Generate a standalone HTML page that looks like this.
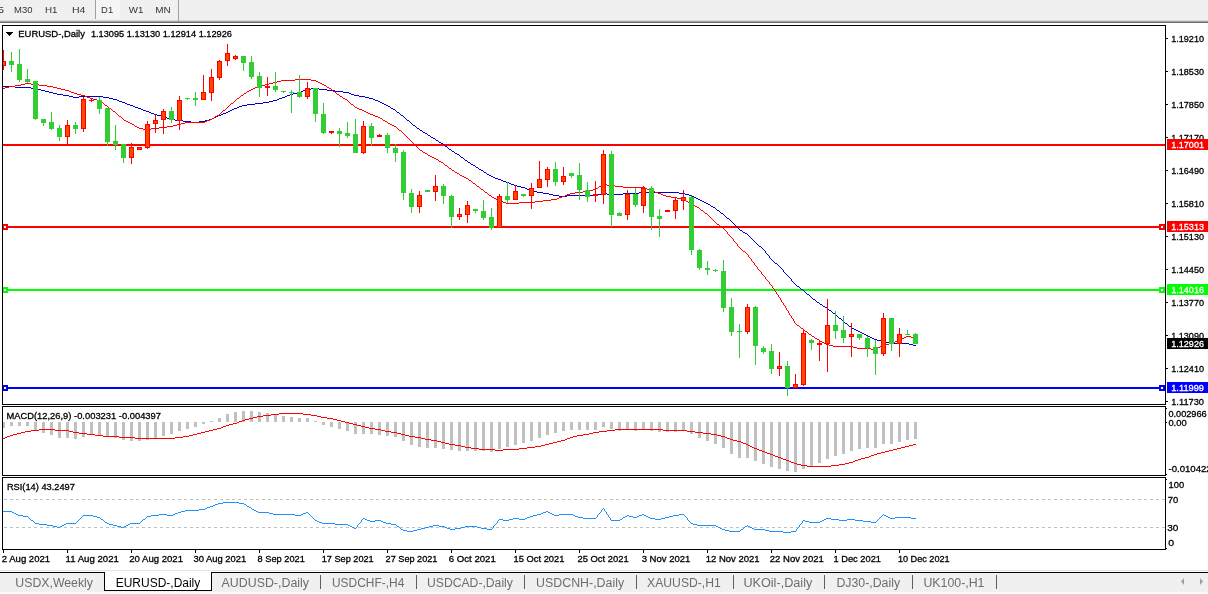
<!DOCTYPE html><html><head><meta charset="utf-8"><title>EURUSD-,Daily</title><style>
html,body{margin:0;padding:0;background:#fff;}body{width:1208px;height:594px;overflow:hidden;position:relative;}
svg{position:absolute;left:0;top:0;display:block;}
text{font-family:"Liberation Sans",Arial,sans-serif;}
.t9{font-size:9px;fill:#000;}
.tb{font-size:9px;fill:#333;}
.tab{font-size:12px;fill:#6d6d6d;}
</style></head><body>
<svg width="1208" height="594" viewBox="0 0 1208 594">
<rect x="0" y="0" width="1208" height="21" fill="#f0f0f0"/>
<rect x="0" y="20" width="1208" height="1" fill="#dadada"/>
<rect x="0" y="21" width="1208" height="1" fill="#a0a0a0"/>
<rect x="0" y="22" width="1208" height="1" fill="#6e6e6e"/>
<defs><pattern id="chk" width="2" height="2" patternUnits="userSpaceOnUse"><rect width="2" height="2" fill="#f0f0f0"/><rect width="1" height="1" fill="#fafafa"/><rect x="1" y="1" width="1" height="1" fill="#fafafa"/></pattern></defs>
<rect x="96" y="0" width="24" height="19" fill="url(#chk)"/>
<rect x="95" y="0" width="1" height="19" fill="#a0a0a0"/>
<rect x="178" y="0" width="1" height="21" fill="#a0a0a0"/>
<text x="-2.10" y="13" font-family="DejaVu Sans","Liberation Sans",sans-serif font-size="9.5" fill="#333" textLength="6.00" lengthAdjust="spacingAndGlyphs">5</text>
<text x="14.00" y="13" font-family="DejaVu Sans","Liberation Sans",sans-serif font-size="9.5" fill="#333" textLength="18.40" lengthAdjust="spacingAndGlyphs">M30</text>
<text x="44.90" y="13" font-family="DejaVu Sans","Liberation Sans",sans-serif font-size="9.5" fill="#333" textLength="12.50" lengthAdjust="spacingAndGlyphs">H1</text>
<text x="71.90" y="13" font-family="DejaVu Sans","Liberation Sans",sans-serif font-size="9.5" fill="#333" textLength="13.50" lengthAdjust="spacingAndGlyphs">H4</text>
<text x="101.10" y="13" font-family="DejaVu Sans","Liberation Sans",sans-serif font-size="9.5" fill="#333" textLength="12.10" lengthAdjust="spacingAndGlyphs">D1</text>
<text x="128.80" y="13" font-family="DejaVu Sans","Liberation Sans",sans-serif font-size="9.5" fill="#333" textLength="14.60" lengthAdjust="spacingAndGlyphs">W1</text>
<text x="155.30" y="13" font-family="DejaVu Sans","Liberation Sans",sans-serif font-size="9.5" fill="#333" textLength="15.50" lengthAdjust="spacingAndGlyphs">MN</text>
<g shape-rendering="crispEdges">
<rect x="2" y="25" width="1164" height="1" fill="#000"/>
<rect x="2" y="404" width="1164" height="1" fill="#000"/>
<rect x="2" y="25" width="1" height="380" fill="#000"/>
<rect x="1165" y="25" width="1" height="380" fill="#000"/>
<rect x="2" y="406" width="1164" height="1" fill="#000"/>
<rect x="2" y="475" width="1164" height="1" fill="#000"/>
<rect x="2" y="406" width="1" height="70" fill="#000"/>
<rect x="1165" y="406" width="1" height="70" fill="#000"/>
<rect x="2" y="477" width="1164" height="1" fill="#000"/>
<rect x="2" y="549" width="1164" height="1" fill="#000"/>
<rect x="2" y="477" width="1" height="73" fill="#000"/>
<rect x="1165" y="477" width="1" height="73" fill="#000"/>
</g>
<defs><clipPath id="cm"><rect x="3" y="26" width="1162" height="378"/></clipPath><clipPath id="cd"><rect x="3" y="407" width="1162" height="68"/></clipPath><clipPath id="cr"><rect x="3" y="478" width="1162" height="71"/></clipPath></defs>
<g clip-path="url(#cm)" shape-rendering="crispEdges">
<rect x="3" y="144" width="1162" height="2" fill="#ff0000"/>
<rect x="3" y="226" width="1162" height="2" fill="#ff0000"/>
<rect x="2" y="224" width="6" height="6" fill="#ff0000"/>
<rect x="4" y="226" width="2" height="2" fill="#fff"/>
<rect x="1159" y="224" width="6" height="6" fill="#ff0000"/>
<rect x="1161" y="226" width="2" height="2" fill="#fff"/>
<rect x="3" y="289" width="1162" height="2" fill="#00ff00"/>
<rect x="2" y="287" width="6" height="6" fill="#00ff00"/>
<rect x="4" y="289" width="2" height="2" fill="#fff"/>
<rect x="1159" y="287" width="6" height="6" fill="#00ff00"/>
<rect x="1161" y="289" width="2" height="2" fill="#fff"/>
<rect x="3" y="387" width="1162" height="2" fill="#0000ff"/>
<rect x="2" y="385" width="6" height="6" fill="#0000ff"/>
<rect x="4" y="387" width="2" height="2" fill="#fff"/>
<rect x="1159" y="385" width="6" height="6" fill="#0000ff"/>
<rect x="1161" y="387" width="2" height="2" fill="#fff"/>
<path d="M3 86h12v1h-12zM15 87h16v1h-16zM31 88h6v1h-6zM311 88h8v1h-8zM37 89h4v1h-4zM306 89h5v1h-5zM319 89h8v1h-8zM41 90h4v1h-4zM303 90h3v1h-3zM327 90h8v1h-8zM45 91h4v1h-4zM301 91h2v1h-2zM335 91h8v1h-8zM49 92h4v1h-4zM297 92h4v1h-4zM343 92h6v1h-6zM53 93h4v1h-4zM293 93h4v1h-4zM349 93h2v1h-2zM57 94h6v1h-6zM290 94h3v1h-3zM351 94h3v1h-3zM63 95h6v1h-6zM287 95h3v1h-3zM354 95h5v1h-5zM69 96h4v1h-4zM79 96h24v1h-24zM285 96h2v1h-2zM359 96h6v1h-6zM73 97h6v1h-6zM103 97h6v1h-6zM282 97h3v1h-3zM365 97h4v1h-4zM109 98h4v1h-4zM279 98h3v1h-3zM369 98h4v1h-4zM113 99h4v1h-4zM277 99h2v1h-2zM373 99h2v1h-2zM117 100h2v1h-2zM273 100h4v1h-4zM375 100h3v1h-3zM119 101h3v1h-3zM269 101h4v1h-4zM378 101h2v1h-2zM122 102h3v1h-3zM263 102h6v1h-6zM380 102h2v1h-2zM125 103h2v1h-2zM255 103h8v1h-8zM382 103h2v1h-2zM127 104h3v1h-3zM247 104h8v1h-8zM384 104h2v1h-2zM130 105h3v1h-3zM242 105h5v1h-5zM386 105h2v1h-2zM133 106h2v1h-2zM239 106h3v1h-3zM388 106h2v1h-2zM135 107h3v1h-3zM237 107h2v1h-2zM390 107h1v1h-1zM138 108h3v1h-3zM234 108h3v1h-3zM391 108h2v1h-2zM141 109h2v1h-2zM232 109h2v1h-2zM393 109h2v1h-2zM143 110h3v1h-3zM230 110h2v1h-2zM395 110h1v1h-1zM146 111h3v1h-3zM228 111h2v1h-2zM396 111h1v1h-1zM149 112h2v1h-2zM226 112h2v1h-2zM397 112h2v1h-2zM151 113h3v1h-3zM223 113h3v1h-3zM399 113h1v1h-1zM154 114h3v1h-3zM221 114h2v1h-2zM400 114h1v1h-1zM157 115h4v1h-4zM218 115h3v1h-3zM401 115h2v1h-2zM161 116h4v1h-4zM216 116h2v1h-2zM403 116h1v1h-1zM165 117h2v1h-2zM214 117h2v1h-2zM404 117h1v1h-1zM167 118h3v1h-3zM212 118h2v1h-2zM405 118h1v1h-1zM170 119h5v1h-5zM209 119h3v1h-3zM406 119h1v1h-1zM175 120h8v1h-8zM205 120h4v1h-4zM407 120h2v1h-2zM183 121h8v1h-8zM199 121h6v1h-6zM409 121h1v1h-1zM191 122h8v1h-8zM410 122h1v1h-1zM411 123h1v1h-1zM412 124h1v1h-1zM413 125h2v1h-2zM415 126h1v1h-1zM416 127h1v1h-1zM417 128h2v1h-2zM419 129h1v1h-1zM420 130h2v1h-2zM422 131h1v1h-1zM423 132h2v1h-2zM425 133h2v1h-2zM427 134h1v1h-1zM428 135h2v1h-2zM430 136h1v1h-1zM431 137h2v1h-2zM433 138h2v1h-2zM435 139h1v1h-1zM436 140h2v1h-2zM438 141h1v1h-1zM439 142h2v1h-2zM441 143h2v1h-2zM443 144h1v1h-1zM444 145h1v1h-1zM445 146h2v1h-2zM447 147h1v1h-1zM448 148h1v1h-1zM449 149h2v1h-2zM451 150h1v1h-1zM452 151h2v1h-2zM454 152h1v1h-1zM455 153h2v1h-2zM457 154h2v1h-2zM459 155h1v1h-1zM460 156h1v1h-1zM461 157h2v1h-2zM463 158h1v1h-1zM464 159h1v1h-1zM465 160h2v1h-2zM467 161h1v1h-1zM468 162h2v1h-2zM470 163h1v1h-1zM471 164h2v1h-2zM473 165h2v1h-2zM475 166h1v1h-1zM476 167h2v1h-2zM478 168h1v1h-1zM479 169h2v1h-2zM481 170h2v1h-2zM483 171h1v1h-1zM484 172h2v1h-2zM486 173h1v1h-1zM487 174h2v1h-2zM489 175h2v1h-2zM491 176h2v1h-2zM493 177h2v1h-2zM495 178h3v1h-3zM498 179h3v1h-3zM501 180h2v1h-2zM503 181h3v1h-3zM506 182h3v1h-3zM509 183h2v1h-2zM511 184h3v1h-3zM514 185h3v1h-3zM517 186h4v1h-4zM521 187h4v1h-4zM525 188h2v1h-2zM527 189h3v1h-3zM530 190h3v1h-3zM533 191h4v1h-4zM537 192h6v1h-6zM639 192h40v1h-40zM543 193h6v1h-6zM601 193h6v1h-6zM623 193h16v1h-16zM679 193h6v1h-6zM549 194h4v1h-4zM597 194h4v1h-4zM607 194h16v1h-16zM685 194h4v1h-4zM553 195h6v1h-6zM567 195h30v1h-30zM689 195h3v1h-3zM559 196h8v1h-8zM692 196h2v1h-2zM694 197h2v1h-2zM696 198h2v1h-2zM698 199h2v1h-2zM700 200h2v1h-2zM702 201h2v1h-2zM704 202h2v1h-2zM706 203h2v1h-2zM708 204h2v1h-2zM710 205h1v1h-1zM711 206h2v1h-2zM713 207h2v1h-2zM715 208h1v1h-1zM716 209h1v1h-1zM717 210h2v1h-2zM719 211h1v1h-1zM720 212h1v1h-1zM721 213h2v1h-2zM723 214h1v1h-1zM724 215h1v1h-1zM725 216h1v1h-1zM726 217h1v1h-1zM727 218h2v1h-2zM729 219h1v1h-1zM730 220h1v1h-1zM731 221h1v1h-1zM732 222h1v1h-1zM733 223h1v1h-1zM734 224h1v1h-1zM735 225h1v1h-1zM736 226h1v1h-1zM737 227h1v1h-1zM738 228h1v1h-1zM739 229h1v1h-1zM740 230h2v1h-2zM742 231h1v1h-1zM743 232h2v1h-2zM745 233h2v1h-2zM747 234h1v1h-1zM748 235h1v1h-1zM749 236h1v1h-1zM750 237h1v1h-1zM751 238h1v1h-1zM752 239h1v1h-1zM753 240h1v1h-1zM754 241h1v1h-1zM755 242h1v1h-1zM756 243h1v1h-1zM757 244h1v1h-1zM758 245h1v1h-1zM759 246h2v1h-2zM761 247h1v1h-1zM762 248h1v1h-1zM763 249h1v1h-1zM764 250h1v1h-1zM765 251h1v1h-1zM765 252h1v1h-1zM766 253h1v1h-1zM767 254h1v1h-1zM768 255h1v1h-1zM769 256h1v1h-1zM769 257h1v1h-1zM770 258h1v1h-1zM771 259h1v1h-1zM772 260h1v1h-1zM773 261h1v1h-1zM774 262h1v1h-1zM775 263h2v1h-2zM777 264h1v1h-1zM778 265h1v1h-1zM779 266h1v1h-1zM780 267h1v1h-1zM781 268h1v1h-1zM782 269h1v1h-1zM783 270h1v1h-1zM783 271h1v1h-1zM784 272h1v1h-1zM785 273h1v1h-1zM786 274h1v1h-1zM787 275h1v1h-1zM788 276h1v1h-1zM789 277h1v1h-1zM790 278h1v1h-1zM791 279h1v1h-1zM791 280h1v1h-1zM792 281h1v1h-1zM793 282h1v1h-1zM794 283h1v1h-1zM795 284h1v1h-1zM796 285h1v1h-1zM797 286h2v1h-2zM799 287h1v1h-1zM800 288h1v1h-1zM801 289h2v1h-2zM803 290h1v1h-1zM804 291h1v1h-1zM805 292h1v1h-1zM806 293h1v1h-1zM807 294h2v1h-2zM809 295h1v1h-1zM810 296h1v1h-1zM811 297h1v1h-1zM812 298h1v1h-1zM813 299h2v1h-2zM815 300h1v1h-1zM816 301h1v1h-1zM817 302h2v1h-2zM819 303h1v1h-1zM820 304h2v1h-2zM822 305h1v1h-1zM823 306h2v1h-2zM825 307h2v1h-2zM827 308h1v1h-1zM828 309h1v1h-1zM829 310h2v1h-2zM831 311h1v1h-1zM832 312h1v1h-1zM833 313h2v1h-2zM835 314h1v1h-1zM836 315h1v1h-1zM837 316h1v1h-1zM838 317h1v1h-1zM839 318h2v1h-2zM841 319h1v1h-1zM842 320h1v1h-1zM843 321h1v1h-1zM844 322h1v1h-1zM845 323h2v1h-2zM847 324h1v1h-1zM848 325h1v1h-1zM849 326h2v1h-2zM851 327h1v1h-1zM852 328h2v1h-2zM854 329h2v1h-2zM856 330h2v1h-2zM858 331h2v1h-2zM860 332h2v1h-2zM862 333h2v1h-2zM864 334h2v1h-2zM866 335h2v1h-2zM868 336h2v1h-2zM870 337h2v1h-2zM872 338h2v1h-2zM874 339h3v1h-3zM877 340h4v1h-4zM881 341h4v1h-4zM885 342h4v1h-4zM889 343h20v1h-20zM909 344h4v1h-4zM913 345h3v1h-3z" fill="#0000cd"/>
<path d="M295 79h16v1h-16zM281 80h14v1h-14zM311 80h5v1h-5zM277 81h4v1h-4zM316 81h2v1h-2zM273 82h4v1h-4zM318 82h2v1h-2zM25 83h6v1h-6zM269 83h4v1h-4zM320 83h2v1h-2zM21 84h4v1h-4zM31 84h8v1h-8zM265 84h4v1h-4zM322 84h2v1h-2zM15 85h6v1h-6zM39 85h8v1h-8zM261 85h4v1h-4zM324 85h2v1h-2zM9 86h6v1h-6zM47 86h6v1h-6zM258 86h3v1h-3zM326 86h1v1h-1zM5 87h4v1h-4zM53 87h4v1h-4zM255 87h3v1h-3zM327 87h2v1h-2zM3 88h2v1h-2zM57 88h4v1h-4zM253 88h2v1h-2zM329 88h2v1h-2zM61 89h4v1h-4zM251 89h2v1h-2zM331 89h1v1h-1zM65 90h4v1h-4zM249 90h2v1h-2zM332 90h1v1h-1zM69 91h2v1h-2zM247 91h2v1h-2zM333 91h2v1h-2zM71 92h3v1h-3zM246 92h1v1h-1zM335 92h1v1h-1zM74 93h3v1h-3zM244 93h2v1h-2zM336 93h1v1h-1zM77 94h4v1h-4zM243 94h1v1h-1zM337 94h2v1h-2zM81 95h4v1h-4zM241 95h2v1h-2zM339 95h1v1h-1zM85 96h2v1h-2zM240 96h1v1h-1zM340 96h2v1h-2zM87 97h3v1h-3zM239 97h1v1h-1zM342 97h1v1h-1zM90 98h3v1h-3zM237 98h2v1h-2zM343 98h2v1h-2zM93 99h4v1h-4zM236 99h1v1h-1zM345 99h2v1h-2zM97 100h3v1h-3zM235 100h1v1h-1zM347 100h1v1h-1zM100 101h1v1h-1zM234 101h1v1h-1zM348 101h1v1h-1zM101 102h2v1h-2zM233 102h1v1h-1zM349 102h1v1h-1zM103 103h1v1h-1zM231 103h2v1h-2zM350 103h1v1h-1zM104 104h1v1h-1zM230 104h1v1h-1zM351 104h2v1h-2zM105 105h2v1h-2zM229 105h1v1h-1zM353 105h1v1h-1zM107 106h1v1h-1zM228 106h1v1h-1zM354 106h1v1h-1zM108 107h1v1h-1zM227 107h1v1h-1zM355 107h2v1h-2zM109 108h2v1h-2zM226 108h1v1h-1zM357 108h2v1h-2zM111 109h1v1h-1zM225 109h1v1h-1zM359 109h3v1h-3zM112 110h1v1h-1zM223 110h2v1h-2zM362 110h2v1h-2zM113 111h2v1h-2zM222 111h1v1h-1zM364 111h2v1h-2zM115 112h1v1h-1zM221 112h1v1h-1zM366 112h2v1h-2zM116 113h1v1h-1zM220 113h1v1h-1zM368 113h2v1h-2zM117 114h1v1h-1zM219 114h1v1h-1zM370 114h3v1h-3zM118 115h1v1h-1zM217 115h2v1h-2zM373 115h2v1h-2zM119 116h2v1h-2zM215 116h2v1h-2zM375 116h3v1h-3zM121 117h1v1h-1zM214 117h1v1h-1zM378 117h2v1h-2zM122 118h1v1h-1zM212 118h2v1h-2zM380 118h2v1h-2zM123 119h1v1h-1zM210 119h2v1h-2zM382 119h1v1h-1zM124 120h2v1h-2zM207 120h3v1h-3zM383 120h2v1h-2zM126 121h2v1h-2zM205 121h2v1h-2zM385 121h2v1h-2zM128 122h2v1h-2zM185 122h20v1h-20zM387 122h1v1h-1zM130 123h2v1h-2zM181 123h4v1h-4zM388 123h2v1h-2zM132 124h2v1h-2zM177 124h4v1h-4zM390 124h2v1h-2zM134 125h1v1h-1zM173 125h4v1h-4zM392 125h2v1h-2zM135 126h2v1h-2zM167 126h6v1h-6zM394 126h2v1h-2zM137 127h2v1h-2zM159 127h8v1h-8zM396 127h1v1h-1zM139 128h4v1h-4zM151 128h8v1h-8zM397 128h1v1h-1zM143 129h8v1h-8zM398 129h1v1h-1zM399 130h2v1h-2zM401 131h1v1h-1zM402 132h1v1h-1zM403 133h1v1h-1zM404 134h1v1h-1zM405 135h1v1h-1zM406 136h1v1h-1zM407 137h1v1h-1zM408 138h1v1h-1zM409 139h1v1h-1zM410 140h1v1h-1zM411 141h1v1h-1zM412 142h1v1h-1zM413 143h1v1h-1zM414 144h1v1h-1zM415 145h1v1h-1zM416 146h1v1h-1zM417 147h1v1h-1zM418 148h1v1h-1zM419 149h1v1h-1zM420 150h2v1h-2zM422 151h1v1h-1zM423 152h2v1h-2zM425 153h2v1h-2zM427 154h1v1h-1zM428 155h2v1h-2zM430 156h2v1h-2zM432 157h2v1h-2zM434 158h2v1h-2zM436 159h2v1h-2zM438 160h1v1h-1zM439 161h2v1h-2zM441 162h2v1h-2zM443 163h1v1h-1zM444 164h1v1h-1zM445 165h2v1h-2zM447 166h1v1h-1zM448 167h1v1h-1zM449 168h2v1h-2zM451 169h1v1h-1zM452 170h2v1h-2zM454 171h1v1h-1zM455 172h2v1h-2zM457 173h2v1h-2zM459 174h1v1h-1zM460 175h2v1h-2zM462 176h2v1h-2zM464 177h2v1h-2zM466 178h2v1h-2zM468 179h1v1h-1zM469 180h2v1h-2zM471 181h1v1h-1zM472 182h1v1h-1zM473 183h2v1h-2zM475 184h1v1h-1zM603 184h4v1h-4zM476 185h1v1h-1zM601 185h2v1h-2zM607 185h8v1h-8zM477 186h2v1h-2zM599 186h2v1h-2zM615 186h8v1h-8zM479 187h1v1h-1zM598 187h1v1h-1zM623 187h22v1h-22zM480 188h1v1h-1zM596 188h2v1h-2zM645 188h2v1h-2zM481 189h2v1h-2zM593 189h3v1h-3zM647 189h3v1h-3zM483 190h1v1h-1zM589 190h4v1h-4zM650 190h3v1h-3zM484 191h1v1h-1zM583 191h6v1h-6zM653 191h2v1h-2zM485 192h2v1h-2zM575 192h8v1h-8zM655 192h3v1h-3zM487 193h1v1h-1zM570 193h5v1h-5zM658 193h3v1h-3zM488 194h1v1h-1zM567 194h3v1h-3zM661 194h2v1h-2zM489 195h2v1h-2zM565 195h2v1h-2zM663 195h3v1h-3zM491 196h1v1h-1zM562 196h3v1h-3zM666 196h5v1h-5zM492 197h2v1h-2zM559 197h3v1h-3zM671 197h6v1h-6zM494 198h2v1h-2zM557 198h2v1h-2zM677 198h4v1h-4zM496 199h2v1h-2zM551 199h6v1h-6zM681 199h3v1h-3zM498 200h3v1h-3zM543 200h8v1h-8zM684 200h2v1h-2zM501 201h2v1h-2zM535 201h8v1h-8zM686 201h2v1h-2zM503 202h3v1h-3zM519 202h16v1h-16zM688 202h2v1h-2zM506 203h13v1h-13zM690 203h2v1h-2zM692 204h2v1h-2zM694 205h1v1h-1zM695 206h2v1h-2zM697 207h2v1h-2zM699 208h1v1h-1zM700 209h1v1h-1zM701 210h2v1h-2zM703 211h1v1h-1zM704 212h1v1h-1zM705 213h2v1h-2zM707 214h1v1h-1zM708 215h1v1h-1zM709 216h1v1h-1zM710 217h1v1h-1zM711 218h1v1h-1zM712 219h1v1h-1zM713 220h1v1h-1zM714 221h1v1h-1zM715 222h1v1h-1zM716 223h1v1h-1zM717 224h2v1h-2zM719 225h1v1h-1zM720 226h1v1h-1zM721 227h2v1h-2zM723 228h1v1h-1zM724 229h1v1h-1zM725 230h1v1h-1zM726 231h1v1h-1zM727 232h1v1h-1zM727 233h1v1h-1zM728 234h1v1h-1zM729 235h1v1h-1zM730 236h1v1h-1zM731 237h1v1h-1zM732 238h1v1h-1zM733 239h1v1h-1zM733 240h1v1h-1zM734 241h1v1h-1zM735 242h1v1h-1zM736 243h1v1h-1zM737 244h1v1h-1zM737 245h1v1h-1zM738 246h1v1h-1zM739 247h1v1h-1zM740 248h1v1h-1zM741 249h1v1h-1zM742 250h1v1h-1zM743 251h2v1h-2zM745 252h1v1h-1zM746 253h1v1h-1zM747 254h1v1h-1zM748 255h1v1h-1zM748 256h1v1h-1zM749 257h1v1h-1zM750 258h1v1h-1zM751 259h1v1h-1zM751 260h1v1h-1zM752 261h1v1h-1zM753 262h1v1h-1zM754 263h1v1h-1zM754 264h1v1h-1zM755 265h1v1h-1zM756 266h1v1h-1zM757 267h1v1h-1zM757 268h1v1h-1zM758 269h1v1h-1zM759 270h1v1h-1zM760 271h1v1h-1zM761 272h1v1h-1zM761 273h1v1h-1zM762 274h1v1h-1zM763 275h1v1h-1zM764 276h1v1h-1zM765 277h1v1h-1zM765 278h1v1h-1zM766 279h1v1h-1zM767 280h1v1h-1zM768 281h1v1h-1zM769 282h1v1h-1zM769 283h1v1h-1zM770 284h1v1h-1zM771 285h1v1h-1zM772 286h1v1h-1zM772 287h1v1h-1zM773 288h1v1h-1zM774 289h1v1h-1zM774 290h1v1h-1zM775 291h1v1h-1zM776 292h1v1h-1zM776 293h1v1h-1zM777 294h1v1h-1zM778 295h1v1h-1zM778 296h1v1h-1zM779 297h1v1h-1zM780 298h1v1h-1zM780 299h1v1h-1zM781 300h1v1h-1zM781 301h1v1h-1zM782 302h1v1h-1zM783 303h1v1h-1zM783 304h1v1h-1zM784 305h1v1h-1zM785 306h1v1h-1zM785 307h1v1h-1zM786 308h1v1h-1zM786 309h1v1h-1zM787 310h1v1h-1zM788 311h1v1h-1zM788 312h1v1h-1zM789 313h1v1h-1zM789 314h1v1h-1zM790 315h1v1h-1zM791 316h1v1h-1zM791 317h1v1h-1zM792 318h1v1h-1zM793 319h1v1h-1zM793 320h1v1h-1zM794 321h1v1h-1zM794 322h1v1h-1zM795 323h1v1h-1zM796 324h1v1h-1zM797 325h2v1h-2zM799 326h1v1h-1zM800 327h1v1h-1zM801 328h2v1h-2zM803 329h1v1h-1zM804 330h1v1h-1zM805 331h2v1h-2zM807 332h1v1h-1zM808 333h1v1h-1zM809 334h2v1h-2zM811 335h1v1h-1zM812 336h2v1h-2zM906 336h5v1h-5zM814 337h1v1h-1zM904 337h2v1h-2zM911 337h5v1h-5zM815 338h2v1h-2zM902 338h2v1h-2zM817 339h2v1h-2zM900 339h2v1h-2zM819 340h1v1h-1zM898 340h2v1h-2zM820 341h2v1h-2zM895 341h3v1h-3zM822 342h2v1h-2zM893 342h2v1h-2zM824 343h2v1h-2zM889 343h4v1h-4zM826 344h3v1h-3zM885 344h4v1h-4zM829 345h4v1h-4zM882 345h3v1h-3zM833 346h20v1h-20zM880 346h2v1h-2zM853 347h4v1h-4zM878 347h2v1h-2zM857 348h14v1h-14zM876 348h2v1h-2zM871 349h5v1h-5z" fill="#ff0000"/>
<rect x="3" y="50" width="1" height="20" fill="#ff0000"/>
<rect x="1" y="61" width="5" height="5" fill="#ff0000"/>
<rect x="2" y="62" width="3" height="3" fill="#ff4500"/>
<rect x="11" y="52" width="1" height="20" fill="#32cd32"/>
<rect x="9" y="61" width="5" height="4" fill="#32cd32"/>
<rect x="19" y="49" width="1" height="33" fill="#32cd32"/>
<rect x="17" y="64" width="5" height="16" fill="#32cd32"/>
<rect x="27" y="69" width="1" height="14" fill="#32cd32"/>
<rect x="25" y="79" width="5" height="3" fill="#32cd32"/>
<rect x="35" y="81" width="1" height="39" fill="#32cd32"/>
<rect x="33" y="81" width="5" height="38" fill="#32cd32"/>
<rect x="43" y="119" width="1" height="7" fill="#32cd32"/>
<rect x="41" y="119" width="5" height="4" fill="#32cd32"/>
<rect x="51" y="112" width="1" height="18" fill="#32cd32"/>
<rect x="49" y="122" width="5" height="7" fill="#32cd32"/>
<rect x="59" y="125" width="1" height="16" fill="#32cd32"/>
<rect x="57" y="128" width="5" height="9" fill="#32cd32"/>
<rect x="67" y="120" width="1" height="24" fill="#ff0000"/>
<rect x="65" y="125" width="5" height="12" fill="#ff0000"/>
<rect x="66" y="126" width="3" height="10" fill="#ff4500"/>
<rect x="75" y="122" width="1" height="12" fill="#32cd32"/>
<rect x="73" y="125" width="5" height="4" fill="#32cd32"/>
<rect x="83" y="97" width="1" height="35" fill="#ff0000"/>
<rect x="81" y="99" width="5" height="30" fill="#ff0000"/>
<rect x="82" y="100" width="3" height="28" fill="#ff4500"/>
<rect x="91" y="98" width="1" height="4" fill="#ff0000"/>
<rect x="89" y="100" width="5" height="1" fill="#ff0000"/>
<rect x="99" y="97" width="1" height="17" fill="#32cd32"/>
<rect x="97" y="100" width="5" height="9" fill="#32cd32"/>
<rect x="107" y="108" width="1" height="38" fill="#32cd32"/>
<rect x="105" y="108" width="5" height="34" fill="#32cd32"/>
<rect x="115" y="125" width="1" height="25" fill="#32cd32"/>
<rect x="113" y="141" width="5" height="4" fill="#32cd32"/>
<rect x="123" y="144" width="1" height="19" fill="#32cd32"/>
<rect x="121" y="144" width="5" height="14" fill="#32cd32"/>
<rect x="131" y="143" width="1" height="21" fill="#ff0000"/>
<rect x="129" y="147" width="5" height="11" fill="#ff0000"/>
<rect x="130" y="148" width="3" height="9" fill="#ff4500"/>
<rect x="139" y="147" width="1" height="3" fill="#ff0000"/>
<rect x="137" y="147" width="5" height="3" fill="#ff0000"/>
<rect x="138" y="148" width="3" height="1" fill="#ff4500"/>
<rect x="147" y="121" width="1" height="28" fill="#ff0000"/>
<rect x="145" y="124" width="5" height="24" fill="#ff0000"/>
<rect x="146" y="125" width="3" height="22" fill="#ff4500"/>
<rect x="155" y="114" width="1" height="19" fill="#ff0000"/>
<rect x="153" y="120" width="5" height="4" fill="#ff0000"/>
<rect x="154" y="121" width="3" height="2" fill="#ff4500"/>
<rect x="163" y="109" width="1" height="25" fill="#ff0000"/>
<rect x="161" y="111" width="5" height="9" fill="#ff0000"/>
<rect x="162" y="112" width="3" height="7" fill="#ff4500"/>
<rect x="171" y="107" width="1" height="16" fill="#32cd32"/>
<rect x="169" y="111" width="5" height="9" fill="#32cd32"/>
<rect x="179" y="96" width="1" height="34" fill="#ff0000"/>
<rect x="177" y="100" width="5" height="21" fill="#ff0000"/>
<rect x="178" y="101" width="3" height="19" fill="#ff4500"/>
<rect x="187" y="98" width="1" height="2" fill="#32cd32"/>
<rect x="185" y="98" width="5" height="1" fill="#32cd32"/>
<rect x="195" y="92" width="1" height="14" fill="#32cd32"/>
<rect x="193" y="98" width="5" height="2" fill="#32cd32"/>
<rect x="203" y="75" width="1" height="25" fill="#ff0000"/>
<rect x="201" y="92" width="5" height="8" fill="#ff0000"/>
<rect x="202" y="93" width="3" height="6" fill="#ff4500"/>
<rect x="211" y="69" width="1" height="32" fill="#ff0000"/>
<rect x="209" y="77" width="5" height="16" fill="#ff0000"/>
<rect x="210" y="78" width="3" height="14" fill="#ff4500"/>
<rect x="219" y="60" width="1" height="20" fill="#ff0000"/>
<rect x="217" y="61" width="5" height="17" fill="#ff0000"/>
<rect x="218" y="62" width="3" height="15" fill="#ff4500"/>
<rect x="227" y="44" width="1" height="22" fill="#ff0000"/>
<rect x="225" y="53" width="5" height="8" fill="#ff0000"/>
<rect x="226" y="54" width="3" height="6" fill="#ff4500"/>
<rect x="235" y="55" width="1" height="5" fill="#ff0000"/>
<rect x="233" y="56" width="5" height="3" fill="#ff0000"/>
<rect x="234" y="57" width="3" height="1" fill="#ff4500"/>
<rect x="243" y="56" width="1" height="15" fill="#32cd32"/>
<rect x="241" y="56" width="5" height="7" fill="#32cd32"/>
<rect x="251" y="56" width="1" height="23" fill="#32cd32"/>
<rect x="249" y="62" width="5" height="15" fill="#32cd32"/>
<rect x="259" y="72" width="1" height="25" fill="#32cd32"/>
<rect x="257" y="76" width="5" height="12" fill="#32cd32"/>
<rect x="267" y="77" width="1" height="19" fill="#ff0000"/>
<rect x="265" y="86" width="5" height="2" fill="#ff0000"/>
<rect x="275" y="72" width="1" height="20" fill="#32cd32"/>
<rect x="273" y="86" width="5" height="4" fill="#32cd32"/>
<rect x="283" y="91" width="1" height="2" fill="#32cd32"/>
<rect x="281" y="91" width="5" height="1" fill="#32cd32"/>
<rect x="291" y="90" width="1" height="23" fill="#32cd32"/>
<rect x="289" y="92" width="5" height="1" fill="#32cd32"/>
<rect x="299" y="75" width="1" height="23" fill="#32cd32"/>
<rect x="297" y="92" width="5" height="5" fill="#32cd32"/>
<rect x="307" y="82" width="1" height="17" fill="#ff0000"/>
<rect x="305" y="88" width="5" height="9" fill="#ff0000"/>
<rect x="306" y="89" width="3" height="7" fill="#ff4500"/>
<rect x="315" y="88" width="1" height="34" fill="#32cd32"/>
<rect x="313" y="88" width="5" height="26" fill="#32cd32"/>
<rect x="323" y="103" width="1" height="31" fill="#32cd32"/>
<rect x="321" y="114" width="5" height="19" fill="#32cd32"/>
<rect x="331" y="131" width="1" height="3" fill="#ff0000"/>
<rect x="329" y="131" width="5" height="2" fill="#ff0000"/>
<rect x="339" y="128" width="1" height="19" fill="#32cd32"/>
<rect x="337" y="131" width="5" height="3" fill="#32cd32"/>
<rect x="347" y="122" width="1" height="16" fill="#32cd32"/>
<rect x="345" y="133" width="5" height="3" fill="#32cd32"/>
<rect x="355" y="119" width="1" height="34" fill="#32cd32"/>
<rect x="353" y="134" width="5" height="19" fill="#32cd32"/>
<rect x="363" y="121" width="1" height="33" fill="#ff0000"/>
<rect x="361" y="126" width="5" height="27" fill="#ff0000"/>
<rect x="362" y="127" width="3" height="25" fill="#ff4500"/>
<rect x="371" y="123" width="1" height="23" fill="#32cd32"/>
<rect x="369" y="126" width="5" height="12" fill="#32cd32"/>
<rect x="379" y="134" width="1" height="3" fill="#ff0000"/>
<rect x="377" y="135" width="5" height="2" fill="#ff0000"/>
<rect x="387" y="133" width="1" height="20" fill="#32cd32"/>
<rect x="385" y="135" width="5" height="13" fill="#32cd32"/>
<rect x="395" y="144" width="1" height="18" fill="#32cd32"/>
<rect x="393" y="148" width="5" height="5" fill="#32cd32"/>
<rect x="403" y="150" width="1" height="50" fill="#32cd32"/>
<rect x="401" y="152" width="5" height="41" fill="#32cd32"/>
<rect x="411" y="189" width="1" height="24" fill="#32cd32"/>
<rect x="409" y="193" width="5" height="14" fill="#32cd32"/>
<rect x="419" y="191" width="1" height="22" fill="#ff0000"/>
<rect x="417" y="195" width="5" height="12" fill="#ff0000"/>
<rect x="418" y="196" width="3" height="10" fill="#ff4500"/>
<rect x="427" y="190" width="1" height="2" fill="#32cd32"/>
<rect x="425" y="190" width="5" height="2" fill="#32cd32"/>
<rect x="435" y="175" width="1" height="26" fill="#ff0000"/>
<rect x="433" y="186" width="5" height="6" fill="#ff0000"/>
<rect x="434" y="187" width="3" height="4" fill="#ff4500"/>
<rect x="443" y="184" width="1" height="20" fill="#32cd32"/>
<rect x="441" y="186" width="5" height="10" fill="#32cd32"/>
<rect x="451" y="195" width="1" height="33" fill="#32cd32"/>
<rect x="449" y="196" width="5" height="21" fill="#32cd32"/>
<rect x="459" y="208" width="1" height="12" fill="#ff0000"/>
<rect x="457" y="214" width="5" height="3" fill="#ff0000"/>
<rect x="458" y="215" width="3" height="1" fill="#ff4500"/>
<rect x="467" y="201" width="1" height="22" fill="#ff0000"/>
<rect x="465" y="205" width="5" height="10" fill="#ff0000"/>
<rect x="466" y="206" width="3" height="8" fill="#ff4500"/>
<rect x="475" y="209" width="1" height="4" fill="#32cd32"/>
<rect x="473" y="209" width="5" height="2" fill="#32cd32"/>
<rect x="483" y="200" width="1" height="20" fill="#32cd32"/>
<rect x="481" y="211" width="5" height="7" fill="#32cd32"/>
<rect x="491" y="208" width="1" height="22" fill="#32cd32"/>
<rect x="489" y="217" width="5" height="11" fill="#32cd32"/>
<rect x="499" y="194" width="1" height="34" fill="#ff0000"/>
<rect x="497" y="196" width="5" height="32" fill="#ff0000"/>
<rect x="498" y="197" width="3" height="30" fill="#ff4500"/>
<rect x="507" y="182" width="1" height="21" fill="#32cd32"/>
<rect x="505" y="196" width="5" height="4" fill="#32cd32"/>
<rect x="515" y="185" width="1" height="15" fill="#ff0000"/>
<rect x="513" y="191" width="5" height="9" fill="#ff0000"/>
<rect x="514" y="192" width="3" height="7" fill="#ff4500"/>
<rect x="523" y="194" width="1" height="3" fill="#32cd32"/>
<rect x="521" y="194" width="5" height="2" fill="#32cd32"/>
<rect x="531" y="183" width="1" height="26" fill="#ff0000"/>
<rect x="529" y="188" width="5" height="8" fill="#ff0000"/>
<rect x="530" y="189" width="3" height="6" fill="#ff4500"/>
<rect x="539" y="161" width="1" height="27" fill="#ff0000"/>
<rect x="537" y="179" width="5" height="9" fill="#ff0000"/>
<rect x="538" y="180" width="3" height="7" fill="#ff4500"/>
<rect x="547" y="167" width="1" height="20" fill="#ff0000"/>
<rect x="545" y="169" width="5" height="11" fill="#ff0000"/>
<rect x="546" y="170" width="3" height="9" fill="#ff4500"/>
<rect x="555" y="162" width="1" height="24" fill="#32cd32"/>
<rect x="553" y="169" width="5" height="13" fill="#32cd32"/>
<rect x="563" y="167" width="1" height="18" fill="#ff0000"/>
<rect x="561" y="176" width="5" height="6" fill="#ff0000"/>
<rect x="562" y="177" width="3" height="4" fill="#ff4500"/>
<rect x="571" y="173" width="1" height="5" fill="#32cd32"/>
<rect x="569" y="173" width="5" height="3" fill="#32cd32"/>
<rect x="579" y="163" width="1" height="37" fill="#32cd32"/>
<rect x="577" y="175" width="5" height="15" fill="#32cd32"/>
<rect x="587" y="182" width="1" height="20" fill="#32cd32"/>
<rect x="585" y="190" width="5" height="7" fill="#32cd32"/>
<rect x="595" y="181" width="1" height="21" fill="#ff0000"/>
<rect x="593" y="194" width="5" height="2" fill="#ff0000"/>
<rect x="603" y="150" width="1" height="54" fill="#ff0000"/>
<rect x="601" y="154" width="5" height="41" fill="#ff0000"/>
<rect x="602" y="155" width="3" height="39" fill="#ff4500"/>
<rect x="611" y="151" width="1" height="76" fill="#32cd32"/>
<rect x="609" y="154" width="5" height="61" fill="#32cd32"/>
<rect x="619" y="212" width="1" height="4" fill="#32cd32"/>
<rect x="617" y="213" width="5" height="3" fill="#32cd32"/>
<rect x="627" y="190" width="1" height="30" fill="#ff0000"/>
<rect x="625" y="194" width="5" height="21" fill="#ff0000"/>
<rect x="626" y="195" width="3" height="19" fill="#ff4500"/>
<rect x="635" y="188" width="1" height="19" fill="#32cd32"/>
<rect x="633" y="194" width="5" height="11" fill="#32cd32"/>
<rect x="643" y="186" width="1" height="27" fill="#ff0000"/>
<rect x="641" y="188" width="5" height="18" fill="#ff0000"/>
<rect x="642" y="189" width="3" height="16" fill="#ff4500"/>
<rect x="651" y="186" width="1" height="44" fill="#32cd32"/>
<rect x="649" y="188" width="5" height="29" fill="#32cd32"/>
<rect x="659" y="209" width="1" height="28" fill="#32cd32"/>
<rect x="657" y="216" width="5" height="3" fill="#32cd32"/>
<rect x="667" y="210" width="1" height="2" fill="#ff0000"/>
<rect x="665" y="210" width="5" height="2" fill="#ff0000"/>
<rect x="675" y="198" width="1" height="21" fill="#ff0000"/>
<rect x="673" y="200" width="5" height="11" fill="#ff0000"/>
<rect x="674" y="201" width="3" height="9" fill="#ff4500"/>
<rect x="683" y="190" width="1" height="20" fill="#ff0000"/>
<rect x="681" y="197" width="5" height="4" fill="#ff0000"/>
<rect x="682" y="198" width="3" height="2" fill="#ff4500"/>
<rect x="691" y="196" width="1" height="59" fill="#32cd32"/>
<rect x="689" y="197" width="5" height="53" fill="#32cd32"/>
<rect x="699" y="249" width="1" height="21" fill="#32cd32"/>
<rect x="697" y="250" width="5" height="18" fill="#32cd32"/>
<rect x="707" y="261" width="1" height="14" fill="#32cd32"/>
<rect x="705" y="268" width="5" height="2" fill="#32cd32"/>
<rect x="715" y="269" width="1" height="3" fill="#32cd32"/>
<rect x="713" y="270" width="5" height="1" fill="#32cd32"/>
<rect x="723" y="260" width="1" height="52" fill="#32cd32"/>
<rect x="721" y="271" width="5" height="37" fill="#32cd32"/>
<rect x="731" y="298" width="1" height="38" fill="#32cd32"/>
<rect x="729" y="307" width="5" height="25" fill="#32cd32"/>
<rect x="739" y="324" width="1" height="34" fill="#32cd32"/>
<rect x="737" y="331" width="5" height="1" fill="#32cd32"/>
<rect x="747" y="304" width="1" height="30" fill="#ff0000"/>
<rect x="745" y="307" width="5" height="25" fill="#ff0000"/>
<rect x="746" y="308" width="3" height="23" fill="#ff4500"/>
<rect x="755" y="306" width="1" height="59" fill="#32cd32"/>
<rect x="753" y="307" width="5" height="39" fill="#32cd32"/>
<rect x="763" y="346" width="1" height="8" fill="#32cd32"/>
<rect x="761" y="348" width="5" height="4" fill="#32cd32"/>
<rect x="771" y="344" width="1" height="30" fill="#32cd32"/>
<rect x="769" y="351" width="5" height="18" fill="#32cd32"/>
<rect x="779" y="352" width="1" height="24" fill="#ff0000"/>
<rect x="777" y="366" width="5" height="3" fill="#ff0000"/>
<rect x="778" y="367" width="3" height="1" fill="#ff4500"/>
<rect x="787" y="361" width="1" height="35" fill="#32cd32"/>
<rect x="785" y="366" width="5" height="22" fill="#32cd32"/>
<rect x="795" y="374" width="1" height="14" fill="#ff0000"/>
<rect x="793" y="384" width="5" height="4" fill="#ff0000"/>
<rect x="794" y="385" width="3" height="2" fill="#ff4500"/>
<rect x="803" y="330" width="1" height="56" fill="#ff0000"/>
<rect x="801" y="333" width="5" height="52" fill="#ff0000"/>
<rect x="802" y="334" width="3" height="50" fill="#ff4500"/>
<rect x="811" y="339" width="1" height="11" fill="#32cd32"/>
<rect x="809" y="340" width="5" height="3" fill="#32cd32"/>
<rect x="819" y="340" width="1" height="21" fill="#ff0000"/>
<rect x="817" y="343" width="5" height="2" fill="#ff0000"/>
<rect x="827" y="299" width="1" height="73" fill="#ff0000"/>
<rect x="825" y="325" width="5" height="19" fill="#ff0000"/>
<rect x="826" y="326" width="3" height="17" fill="#ff4500"/>
<rect x="835" y="311" width="1" height="28" fill="#32cd32"/>
<rect x="833" y="325" width="5" height="6" fill="#32cd32"/>
<rect x="843" y="316" width="1" height="27" fill="#32cd32"/>
<rect x="841" y="330" width="5" height="8" fill="#32cd32"/>
<rect x="851" y="323" width="1" height="34" fill="#ff0000"/>
<rect x="849" y="334" width="5" height="3" fill="#ff0000"/>
<rect x="850" y="335" width="3" height="1" fill="#ff4500"/>
<rect x="859" y="334" width="1" height="6" fill="#32cd32"/>
<rect x="857" y="334" width="5" height="4" fill="#32cd32"/>
<rect x="867" y="336" width="1" height="21" fill="#32cd32"/>
<rect x="865" y="338" width="5" height="10" fill="#32cd32"/>
<rect x="875" y="340" width="1" height="35" fill="#32cd32"/>
<rect x="873" y="347" width="5" height="7" fill="#32cd32"/>
<rect x="883" y="313" width="1" height="43" fill="#ff0000"/>
<rect x="881" y="318" width="5" height="36" fill="#ff0000"/>
<rect x="882" y="319" width="3" height="34" fill="#ff4500"/>
<rect x="891" y="318" width="1" height="33" fill="#32cd32"/>
<rect x="889" y="318" width="5" height="26" fill="#32cd32"/>
<rect x="899" y="328" width="1" height="29" fill="#ff0000"/>
<rect x="897" y="334" width="5" height="10" fill="#ff0000"/>
<rect x="898" y="335" width="3" height="8" fill="#ff4500"/>
<rect x="907" y="330" width="1" height="5" fill="#32cd32"/>
<rect x="905" y="334" width="5" height="1" fill="#32cd32"/>
<rect x="915" y="333" width="1" height="11" fill="#32cd32"/>
<rect x="913" y="334" width="5" height="10" fill="#32cd32"/>
</g>
<g shape-rendering="crispEdges">
<rect x="1166" y="38" width="2" height="1" fill="#000"/>
<rect x="1166" y="71" width="2" height="1" fill="#000"/>
<rect x="1166" y="104" width="2" height="1" fill="#000"/>
<rect x="1166" y="137" width="2" height="1" fill="#000"/>
<rect x="1166" y="170" width="2" height="1" fill="#000"/>
<rect x="1166" y="203" width="2" height="1" fill="#000"/>
<rect x="1166" y="236" width="2" height="1" fill="#000"/>
<rect x="1166" y="269" width="2" height="1" fill="#000"/>
<rect x="1166" y="302" width="2" height="1" fill="#000"/>
<rect x="1166" y="335" width="2" height="1" fill="#000"/>
<rect x="1166" y="368" width="2" height="1" fill="#000"/>
<rect x="1166" y="401" width="2" height="1" fill="#000"/>
</g>
<text x="1171.20" y="42" font-family="DejaVu Sans","Liberation Sans",sans-serif font-size="9.5" fill="#000" stroke="#000" stroke-width="0.3" textLength="32.80" lengthAdjust="spacingAndGlyphs">1.19210</text>
<text x="1171.20" y="75" font-family="DejaVu Sans","Liberation Sans",sans-serif font-size="9.5" fill="#000" stroke="#000" stroke-width="0.3" textLength="32.80" lengthAdjust="spacingAndGlyphs">1.18530</text>
<text x="1171.20" y="108" font-family="DejaVu Sans","Liberation Sans",sans-serif font-size="9.5" fill="#000" stroke="#000" stroke-width="0.3" textLength="32.80" lengthAdjust="spacingAndGlyphs">1.17850</text>
<text x="1171.20" y="141" font-family="DejaVu Sans","Liberation Sans",sans-serif font-size="9.5" fill="#000" stroke="#000" stroke-width="0.3" textLength="32.80" lengthAdjust="spacingAndGlyphs">1.17170</text>
<text x="1171.20" y="174" font-family="DejaVu Sans","Liberation Sans",sans-serif font-size="9.5" fill="#000" stroke="#000" stroke-width="0.3" textLength="32.80" lengthAdjust="spacingAndGlyphs">1.16490</text>
<text x="1171.20" y="207" font-family="DejaVu Sans","Liberation Sans",sans-serif font-size="9.5" fill="#000" stroke="#000" stroke-width="0.3" textLength="32.80" lengthAdjust="spacingAndGlyphs">1.15810</text>
<text x="1171.20" y="240" font-family="DejaVu Sans","Liberation Sans",sans-serif font-size="9.5" fill="#000" stroke="#000" stroke-width="0.3" textLength="32.80" lengthAdjust="spacingAndGlyphs">1.15130</text>
<text x="1171.20" y="273" font-family="DejaVu Sans","Liberation Sans",sans-serif font-size="9.5" fill="#000" stroke="#000" stroke-width="0.3" textLength="32.80" lengthAdjust="spacingAndGlyphs">1.14450</text>
<text x="1171.20" y="306" font-family="DejaVu Sans","Liberation Sans",sans-serif font-size="9.5" fill="#000" stroke="#000" stroke-width="0.3" textLength="32.80" lengthAdjust="spacingAndGlyphs">1.13770</text>
<text x="1171.20" y="339" font-family="DejaVu Sans","Liberation Sans",sans-serif font-size="9.5" fill="#000" stroke="#000" stroke-width="0.3" textLength="32.80" lengthAdjust="spacingAndGlyphs">1.13090</text>
<text x="1171.20" y="372" font-family="DejaVu Sans","Liberation Sans",sans-serif font-size="9.5" fill="#000" stroke="#000" stroke-width="0.3" textLength="32.80" lengthAdjust="spacingAndGlyphs">1.12410</text>
<text x="1171.20" y="405" font-family="DejaVu Sans","Liberation Sans",sans-serif font-size="9.5" fill="#000" stroke="#000" stroke-width="0.3" textLength="32.80" lengthAdjust="spacingAndGlyphs">1.11730</text>
<rect x="1167" y="139" width="41" height="11" fill="#ff0000" shape-rendering="crispEdges"/>
<text x="1171.20" y="148" font-family="DejaVu Sans","Liberation Sans",sans-serif font-size="9.5" fill="#fff" stroke="#fff" stroke-width="0.3" textLength="32.80" lengthAdjust="spacingAndGlyphs">1.17001</text>
<rect x="1167" y="221" width="41" height="11" fill="#ff0000" shape-rendering="crispEdges"/>
<text x="1171.20" y="230" font-family="DejaVu Sans","Liberation Sans",sans-serif font-size="9.5" fill="#fff" stroke="#fff" stroke-width="0.3" textLength="32.80" lengthAdjust="spacingAndGlyphs">1.15313</text>
<rect x="1167" y="284" width="41" height="11" fill="#00ff00" shape-rendering="crispEdges"/>
<text x="1171.20" y="293" font-family="DejaVu Sans","Liberation Sans",sans-serif font-size="9.5" fill="#fff" stroke="#fff" stroke-width="0.3" textLength="32.80" lengthAdjust="spacingAndGlyphs">1.14016</text>
<rect x="1167" y="338" width="41" height="11" fill="#000000" shape-rendering="crispEdges"/>
<text x="1171.20" y="347" font-family="DejaVu Sans","Liberation Sans",sans-serif font-size="9.5" fill="#fff" stroke="#fff" stroke-width="0.3" textLength="32.80" lengthAdjust="spacingAndGlyphs">1.12926</text>
<rect x="1167" y="382" width="41" height="11" fill="#0000ff" shape-rendering="crispEdges"/>
<text x="1171.20" y="391" font-family="DejaVu Sans","Liberation Sans",sans-serif font-size="9.5" fill="#fff" stroke="#fff" stroke-width="0.3" textLength="32.80" lengthAdjust="spacingAndGlyphs">1.11999</text>
<path d="M6,32h7l-3.5,4z" fill="#000" shape-rendering="crispEdges"/>
<text x="18.30" y="37" font-family="DejaVu Sans","Liberation Sans",sans-serif font-size="9.5" fill="#000" stroke="#000" stroke-width="0.3" textLength="66.60" lengthAdjust="spacingAndGlyphs">EURUSD-,Daily</text>
<text x="90.90" y="37" font-family="DejaVu Sans","Liberation Sans",sans-serif font-size="9.5" fill="#000" stroke="#000" stroke-width="0.3" textLength="141.10" lengthAdjust="spacingAndGlyphs">1.13095 1.13130 1.12914 1.12926</text>
<g clip-path="url(#cd)" shape-rendering="crispEdges">
<rect x="2" y="422" width="3" height="6" fill="#c0c0c0"/>
<rect x="10" y="422" width="3" height="4" fill="#c0c0c0"/>
<rect x="18" y="422" width="3" height="4" fill="#c0c0c0"/>
<rect x="26" y="422" width="3" height="4" fill="#c0c0c0"/>
<rect x="34" y="422" width="3" height="8" fill="#c0c0c0"/>
<rect x="42" y="422" width="3" height="11" fill="#c0c0c0"/>
<rect x="50" y="422" width="3" height="13" fill="#c0c0c0"/>
<rect x="58" y="422" width="3" height="16" fill="#c0c0c0"/>
<rect x="66" y="422" width="3" height="16" fill="#c0c0c0"/>
<rect x="74" y="422" width="3" height="17" fill="#c0c0c0"/>
<rect x="82" y="422" width="3" height="15" fill="#c0c0c0"/>
<rect x="90" y="422" width="3" height="13" fill="#c0c0c0"/>
<rect x="98" y="422" width="3" height="13" fill="#c0c0c0"/>
<rect x="106" y="422" width="3" height="15" fill="#c0c0c0"/>
<rect x="114" y="422" width="3" height="16" fill="#c0c0c0"/>
<rect x="122" y="422" width="3" height="18" fill="#c0c0c0"/>
<rect x="130" y="422" width="3" height="19" fill="#c0c0c0"/>
<rect x="138" y="422" width="3" height="19" fill="#c0c0c0"/>
<rect x="146" y="422" width="3" height="18" fill="#c0c0c0"/>
<rect x="154" y="422" width="3" height="16" fill="#c0c0c0"/>
<rect x="162" y="422" width="3" height="14" fill="#c0c0c0"/>
<rect x="170" y="422" width="3" height="12" fill="#c0c0c0"/>
<rect x="178" y="422" width="3" height="9" fill="#c0c0c0"/>
<rect x="186" y="422" width="3" height="7" fill="#c0c0c0"/>
<rect x="194" y="422" width="3" height="5" fill="#c0c0c0"/>
<rect x="202" y="422" width="3" height="2" fill="#c0c0c0"/>
<rect x="210" y="421" width="3" height="1" fill="#c0c0c0"/>
<rect x="218" y="418" width="3" height="4" fill="#c0c0c0"/>
<rect x="226" y="414" width="3" height="8" fill="#c0c0c0"/>
<rect x="234" y="412" width="3" height="10" fill="#c0c0c0"/>
<rect x="242" y="411" width="3" height="11" fill="#c0c0c0"/>
<rect x="250" y="411" width="3" height="11" fill="#c0c0c0"/>
<rect x="258" y="412" width="3" height="10" fill="#c0c0c0"/>
<rect x="266" y="413" width="3" height="9" fill="#c0c0c0"/>
<rect x="274" y="415" width="3" height="7" fill="#c0c0c0"/>
<rect x="282" y="416" width="3" height="6" fill="#c0c0c0"/>
<rect x="290" y="417" width="3" height="5" fill="#c0c0c0"/>
<rect x="298" y="418" width="3" height="4" fill="#c0c0c0"/>
<rect x="306" y="418" width="3" height="4" fill="#c0c0c0"/>
<rect x="314" y="421" width="3" height="1" fill="#c0c0c0"/>
<rect x="322" y="422" width="3" height="3" fill="#c0c0c0"/>
<rect x="330" y="422" width="3" height="5" fill="#c0c0c0"/>
<rect x="338" y="422" width="3" height="7" fill="#c0c0c0"/>
<rect x="346" y="422" width="3" height="9" fill="#c0c0c0"/>
<rect x="354" y="422" width="3" height="12" fill="#c0c0c0"/>
<rect x="362" y="422" width="3" height="12" fill="#c0c0c0"/>
<rect x="370" y="422" width="3" height="12" fill="#c0c0c0"/>
<rect x="378" y="422" width="3" height="13" fill="#c0c0c0"/>
<rect x="386" y="422" width="3" height="14" fill="#c0c0c0"/>
<rect x="394" y="422" width="3" height="15" fill="#c0c0c0"/>
<rect x="402" y="422" width="3" height="19" fill="#c0c0c0"/>
<rect x="410" y="422" width="3" height="23" fill="#c0c0c0"/>
<rect x="418" y="422" width="3" height="25" fill="#c0c0c0"/>
<rect x="426" y="422" width="3" height="26" fill="#c0c0c0"/>
<rect x="434" y="422" width="3" height="26" fill="#c0c0c0"/>
<rect x="442" y="422" width="3" height="27" fill="#c0c0c0"/>
<rect x="450" y="422" width="3" height="28" fill="#c0c0c0"/>
<rect x="458" y="422" width="3" height="29" fill="#c0c0c0"/>
<rect x="466" y="422" width="3" height="29" fill="#c0c0c0"/>
<rect x="474" y="422" width="3" height="29" fill="#c0c0c0"/>
<rect x="482" y="422" width="3" height="29" fill="#c0c0c0"/>
<rect x="490" y="422" width="3" height="30" fill="#c0c0c0"/>
<rect x="498" y="422" width="3" height="27" fill="#c0c0c0"/>
<rect x="506" y="422" width="3" height="25" fill="#c0c0c0"/>
<rect x="514" y="422" width="3" height="23" fill="#c0c0c0"/>
<rect x="522" y="422" width="3" height="21" fill="#c0c0c0"/>
<rect x="530" y="422" width="3" height="19" fill="#c0c0c0"/>
<rect x="538" y="422" width="3" height="16" fill="#c0c0c0"/>
<rect x="546" y="422" width="3" height="13" fill="#c0c0c0"/>
<rect x="554" y="422" width="3" height="11" fill="#c0c0c0"/>
<rect x="562" y="422" width="3" height="9" fill="#c0c0c0"/>
<rect x="570" y="422" width="3" height="8" fill="#c0c0c0"/>
<rect x="578" y="422" width="3" height="8" fill="#c0c0c0"/>
<rect x="586" y="422" width="3" height="8" fill="#c0c0c0"/>
<rect x="594" y="422" width="3" height="8" fill="#c0c0c0"/>
<rect x="602" y="422" width="3" height="5" fill="#c0c0c0"/>
<rect x="610" y="422" width="3" height="7" fill="#c0c0c0"/>
<rect x="618" y="422" width="3" height="9" fill="#c0c0c0"/>
<rect x="626" y="422" width="3" height="8" fill="#c0c0c0"/>
<rect x="634" y="422" width="3" height="9" fill="#c0c0c0"/>
<rect x="642" y="422" width="3" height="8" fill="#c0c0c0"/>
<rect x="650" y="422" width="3" height="9" fill="#c0c0c0"/>
<rect x="658" y="422" width="3" height="10" fill="#c0c0c0"/>
<rect x="666" y="422" width="3" height="10" fill="#c0c0c0"/>
<rect x="674" y="422" width="3" height="10" fill="#c0c0c0"/>
<rect x="682" y="422" width="3" height="8" fill="#c0c0c0"/>
<rect x="690" y="422" width="3" height="12" fill="#c0c0c0"/>
<rect x="698" y="422" width="3" height="16" fill="#c0c0c0"/>
<rect x="706" y="422" width="3" height="19" fill="#c0c0c0"/>
<rect x="714" y="422" width="3" height="22" fill="#c0c0c0"/>
<rect x="722" y="422" width="3" height="26" fill="#c0c0c0"/>
<rect x="730" y="422" width="3" height="32" fill="#c0c0c0"/>
<rect x="738" y="422" width="3" height="36" fill="#c0c0c0"/>
<rect x="746" y="422" width="3" height="36" fill="#c0c0c0"/>
<rect x="754" y="422" width="3" height="39" fill="#c0c0c0"/>
<rect x="762" y="422" width="3" height="42" fill="#c0c0c0"/>
<rect x="770" y="422" width="3" height="45" fill="#c0c0c0"/>
<rect x="778" y="422" width="3" height="47" fill="#c0c0c0"/>
<rect x="786" y="422" width="3" height="49" fill="#c0c0c0"/>
<rect x="794" y="422" width="3" height="50" fill="#c0c0c0"/>
<rect x="802" y="422" width="3" height="47" fill="#c0c0c0"/>
<rect x="810" y="422" width="3" height="44" fill="#c0c0c0"/>
<rect x="818" y="422" width="3" height="41" fill="#c0c0c0"/>
<rect x="826" y="422" width="3" height="37" fill="#c0c0c0"/>
<rect x="834" y="422" width="3" height="34" fill="#c0c0c0"/>
<rect x="842" y="422" width="3" height="32" fill="#c0c0c0"/>
<rect x="850" y="422" width="3" height="29" fill="#c0c0c0"/>
<rect x="858" y="422" width="3" height="27" fill="#c0c0c0"/>
<rect x="866" y="422" width="3" height="26" fill="#c0c0c0"/>
<rect x="874" y="422" width="3" height="26" fill="#c0c0c0"/>
<rect x="882" y="422" width="3" height="22" fill="#c0c0c0"/>
<rect x="890" y="422" width="3" height="22" fill="#c0c0c0"/>
<rect x="898" y="422" width="3" height="20" fill="#c0c0c0"/>
<rect x="906" y="422" width="3" height="18" fill="#c0c0c0"/>
<rect x="914" y="422" width="3" height="17" fill="#c0c0c0"/>
<path d="M279 413h24v1h-24zM271 414h8v1h-8zM303 414h8v1h-8zM263 415h8v1h-8zM311 415h6v1h-6zM257 416h6v1h-6zM317 416h4v1h-4zM253 417h4v1h-4zM321 417h6v1h-6zM249 418h4v1h-4zM327 418h6v1h-6zM245 419h4v1h-4zM333 419h4v1h-4zM242 420h3v1h-3zM337 420h4v1h-4zM239 421h3v1h-3zM341 421h4v1h-4zM237 422h2v1h-2zM345 422h4v1h-4zM233 423h4v1h-4zM349 423h4v1h-4zM229 424h4v1h-4zM353 424h4v1h-4zM226 425h3v1h-3zM357 425h4v1h-4zM223 426h3v1h-3zM361 426h4v1h-4zM221 427h2v1h-2zM365 427h4v1h-4zM217 428h4v1h-4zM369 428h6v1h-6zM39 429h16v1h-16zM213 429h4v1h-4zM375 429h6v1h-6zM615 429h48v1h-48zM31 430h8v1h-8zM55 430h14v1h-14zM209 430h4v1h-4zM381 430h4v1h-4zM607 430h8v1h-8zM663 430h24v1h-24zM25 431h6v1h-6zM69 431h4v1h-4zM205 431h4v1h-4zM385 431h6v1h-6zM599 431h8v1h-8zM687 431h8v1h-8zM21 432h4v1h-4zM73 432h6v1h-6zM201 432h4v1h-4zM391 432h6v1h-6zM593 432h6v1h-6zM695 432h8v1h-8zM17 433h4v1h-4zM79 433h8v1h-8zM197 433h4v1h-4zM397 433h4v1h-4zM589 433h4v1h-4zM703 433h8v1h-8zM13 434h4v1h-4zM87 434h8v1h-8zM193 434h4v1h-4zM401 434h4v1h-4zM583 434h6v1h-6zM711 434h6v1h-6zM10 435h3v1h-3zM95 435h8v1h-8zM189 435h4v1h-4zM405 435h4v1h-4zM577 435h6v1h-6zM717 435h4v1h-4zM7 436h3v1h-3zM103 436h16v1h-16zM183 436h6v1h-6zM409 436h6v1h-6zM573 436h4v1h-4zM721 436h4v1h-4zM5 437h2v1h-2zM119 437h16v1h-16zM175 437h8v1h-8zM415 437h6v1h-6zM570 437h3v1h-3zM725 437h2v1h-2zM3 438h2v1h-2zM135 438h40v1h-40zM421 438h4v1h-4zM567 438h3v1h-3zM727 438h3v1h-3zM425 439h6v1h-6zM565 439h2v1h-2zM730 439h3v1h-3zM431 440h6v1h-6zM561 440h4v1h-4zM733 440h4v1h-4zM437 441h4v1h-4zM557 441h4v1h-4zM737 441h4v1h-4zM441 442h4v1h-4zM553 442h4v1h-4zM741 442h2v1h-2zM445 443h4v1h-4zM549 443h4v1h-4zM743 443h3v1h-3zM449 444h6v1h-6zM545 444h4v1h-4zM746 444h2v1h-2zM913 444h3v1h-3zM455 445h6v1h-6zM541 445h4v1h-4zM748 445h2v1h-2zM909 445h4v1h-4zM461 446h4v1h-4zM535 446h6v1h-6zM750 446h2v1h-2zM905 446h4v1h-4zM465 447h6v1h-6zM527 447h8v1h-8zM752 447h2v1h-2zM901 447h4v1h-4zM471 448h8v1h-8zM519 448h8v1h-8zM754 448h3v1h-3zM897 448h4v1h-4zM479 449h16v1h-16zM503 449h16v1h-16zM757 449h2v1h-2zM893 449h4v1h-4zM495 450h8v1h-8zM759 450h3v1h-3zM889 450h4v1h-4zM762 451h3v1h-3zM885 451h4v1h-4zM765 452h2v1h-2zM881 452h4v1h-4zM767 453h3v1h-3zM877 453h4v1h-4zM770 454h3v1h-3zM874 454h3v1h-3zM773 455h2v1h-2zM871 455h3v1h-3zM775 456h3v1h-3zM869 456h2v1h-2zM778 457h3v1h-3zM865 457h4v1h-4zM781 458h2v1h-2zM861 458h4v1h-4zM783 459h3v1h-3zM858 459h3v1h-3zM786 460h3v1h-3zM855 460h3v1h-3zM789 461h2v1h-2zM853 461h2v1h-2zM791 462h3v1h-3zM849 462h4v1h-4zM794 463h3v1h-3zM845 463h4v1h-4zM797 464h4v1h-4zM839 464h6v1h-6zM801 465h6v1h-6zM831 465h8v1h-8zM807 466h24v1h-24z" fill="#ff0000"/>
</g>
<text x="6.40" y="419" font-family="DejaVu Sans","Liberation Sans",sans-serif font-size="9.5" fill="#000" stroke="#000" stroke-width="0.3" textLength="154.60" lengthAdjust="spacingAndGlyphs">MACD(12,26,9) -0.003231 -0.004397</text>
<g shape-rendering="crispEdges">
<rect x="1166" y="408" width="1" height="1" fill="#000"/>
<rect x="1166" y="422" width="1" height="1" fill="#000"/>
<rect x="1166" y="474" width="1" height="1" fill="#000"/>
</g>
<text x="1168.40" y="417" font-family="DejaVu Sans","Liberation Sans",sans-serif font-size="9.5" fill="#000" stroke="#000" stroke-width="0.3" textLength="38.30" lengthAdjust="spacingAndGlyphs">0.002966</text>
<text x="1168.40" y="426" font-family="DejaVu Sans","Liberation Sans",sans-serif font-size="9.5" fill="#000" stroke="#000" stroke-width="0.3" textLength="18.30" lengthAdjust="spacingAndGlyphs">0.00</text>
<text x="1168.50" y="472" font-family="DejaVu Sans","Liberation Sans",sans-serif font-size="9.5" fill="#000" stroke="#000" stroke-width="0.3" textLength="43.20" lengthAdjust="spacingAndGlyphs">-0.010422</text>
<g clip-path="url(#cr)" shape-rendering="crispEdges">
<rect x="4" y="499" width="3" height="1" fill="#c0c0c0"/>
<rect x="10" y="499" width="3" height="1" fill="#c0c0c0"/>
<rect x="16" y="499" width="3" height="1" fill="#c0c0c0"/>
<rect x="22" y="499" width="3" height="1" fill="#c0c0c0"/>
<rect x="28" y="499" width="3" height="1" fill="#c0c0c0"/>
<rect x="34" y="499" width="3" height="1" fill="#c0c0c0"/>
<rect x="40" y="499" width="3" height="1" fill="#c0c0c0"/>
<rect x="46" y="499" width="3" height="1" fill="#c0c0c0"/>
<rect x="52" y="499" width="3" height="1" fill="#c0c0c0"/>
<rect x="58" y="499" width="3" height="1" fill="#c0c0c0"/>
<rect x="64" y="499" width="3" height="1" fill="#c0c0c0"/>
<rect x="70" y="499" width="3" height="1" fill="#c0c0c0"/>
<rect x="76" y="499" width="3" height="1" fill="#c0c0c0"/>
<rect x="82" y="499" width="3" height="1" fill="#c0c0c0"/>
<rect x="88" y="499" width="3" height="1" fill="#c0c0c0"/>
<rect x="94" y="499" width="3" height="1" fill="#c0c0c0"/>
<rect x="100" y="499" width="3" height="1" fill="#c0c0c0"/>
<rect x="106" y="499" width="3" height="1" fill="#c0c0c0"/>
<rect x="112" y="499" width="3" height="1" fill="#c0c0c0"/>
<rect x="118" y="499" width="3" height="1" fill="#c0c0c0"/>
<rect x="124" y="499" width="3" height="1" fill="#c0c0c0"/>
<rect x="130" y="499" width="3" height="1" fill="#c0c0c0"/>
<rect x="136" y="499" width="3" height="1" fill="#c0c0c0"/>
<rect x="142" y="499" width="3" height="1" fill="#c0c0c0"/>
<rect x="148" y="499" width="3" height="1" fill="#c0c0c0"/>
<rect x="154" y="499" width="3" height="1" fill="#c0c0c0"/>
<rect x="160" y="499" width="3" height="1" fill="#c0c0c0"/>
<rect x="166" y="499" width="3" height="1" fill="#c0c0c0"/>
<rect x="172" y="499" width="3" height="1" fill="#c0c0c0"/>
<rect x="178" y="499" width="3" height="1" fill="#c0c0c0"/>
<rect x="184" y="499" width="3" height="1" fill="#c0c0c0"/>
<rect x="190" y="499" width="3" height="1" fill="#c0c0c0"/>
<rect x="196" y="499" width="3" height="1" fill="#c0c0c0"/>
<rect x="202" y="499" width="3" height="1" fill="#c0c0c0"/>
<rect x="208" y="499" width="3" height="1" fill="#c0c0c0"/>
<rect x="214" y="499" width="3" height="1" fill="#c0c0c0"/>
<rect x="220" y="499" width="3" height="1" fill="#c0c0c0"/>
<rect x="226" y="499" width="3" height="1" fill="#c0c0c0"/>
<rect x="232" y="499" width="3" height="1" fill="#c0c0c0"/>
<rect x="238" y="499" width="3" height="1" fill="#c0c0c0"/>
<rect x="244" y="499" width="3" height="1" fill="#c0c0c0"/>
<rect x="250" y="499" width="3" height="1" fill="#c0c0c0"/>
<rect x="256" y="499" width="3" height="1" fill="#c0c0c0"/>
<rect x="262" y="499" width="3" height="1" fill="#c0c0c0"/>
<rect x="268" y="499" width="3" height="1" fill="#c0c0c0"/>
<rect x="274" y="499" width="3" height="1" fill="#c0c0c0"/>
<rect x="280" y="499" width="3" height="1" fill="#c0c0c0"/>
<rect x="286" y="499" width="3" height="1" fill="#c0c0c0"/>
<rect x="292" y="499" width="3" height="1" fill="#c0c0c0"/>
<rect x="298" y="499" width="3" height="1" fill="#c0c0c0"/>
<rect x="304" y="499" width="3" height="1" fill="#c0c0c0"/>
<rect x="310" y="499" width="3" height="1" fill="#c0c0c0"/>
<rect x="316" y="499" width="3" height="1" fill="#c0c0c0"/>
<rect x="322" y="499" width="3" height="1" fill="#c0c0c0"/>
<rect x="328" y="499" width="3" height="1" fill="#c0c0c0"/>
<rect x="334" y="499" width="3" height="1" fill="#c0c0c0"/>
<rect x="340" y="499" width="3" height="1" fill="#c0c0c0"/>
<rect x="346" y="499" width="3" height="1" fill="#c0c0c0"/>
<rect x="352" y="499" width="3" height="1" fill="#c0c0c0"/>
<rect x="358" y="499" width="3" height="1" fill="#c0c0c0"/>
<rect x="364" y="499" width="3" height="1" fill="#c0c0c0"/>
<rect x="370" y="499" width="3" height="1" fill="#c0c0c0"/>
<rect x="376" y="499" width="3" height="1" fill="#c0c0c0"/>
<rect x="382" y="499" width="3" height="1" fill="#c0c0c0"/>
<rect x="388" y="499" width="3" height="1" fill="#c0c0c0"/>
<rect x="394" y="499" width="3" height="1" fill="#c0c0c0"/>
<rect x="400" y="499" width="3" height="1" fill="#c0c0c0"/>
<rect x="406" y="499" width="3" height="1" fill="#c0c0c0"/>
<rect x="412" y="499" width="3" height="1" fill="#c0c0c0"/>
<rect x="418" y="499" width="3" height="1" fill="#c0c0c0"/>
<rect x="424" y="499" width="3" height="1" fill="#c0c0c0"/>
<rect x="430" y="499" width="3" height="1" fill="#c0c0c0"/>
<rect x="436" y="499" width="3" height="1" fill="#c0c0c0"/>
<rect x="442" y="499" width="3" height="1" fill="#c0c0c0"/>
<rect x="448" y="499" width="3" height="1" fill="#c0c0c0"/>
<rect x="454" y="499" width="3" height="1" fill="#c0c0c0"/>
<rect x="460" y="499" width="3" height="1" fill="#c0c0c0"/>
<rect x="466" y="499" width="3" height="1" fill="#c0c0c0"/>
<rect x="472" y="499" width="3" height="1" fill="#c0c0c0"/>
<rect x="478" y="499" width="3" height="1" fill="#c0c0c0"/>
<rect x="484" y="499" width="3" height="1" fill="#c0c0c0"/>
<rect x="490" y="499" width="3" height="1" fill="#c0c0c0"/>
<rect x="496" y="499" width="3" height="1" fill="#c0c0c0"/>
<rect x="502" y="499" width="3" height="1" fill="#c0c0c0"/>
<rect x="508" y="499" width="3" height="1" fill="#c0c0c0"/>
<rect x="514" y="499" width="3" height="1" fill="#c0c0c0"/>
<rect x="520" y="499" width="3" height="1" fill="#c0c0c0"/>
<rect x="526" y="499" width="3" height="1" fill="#c0c0c0"/>
<rect x="532" y="499" width="3" height="1" fill="#c0c0c0"/>
<rect x="538" y="499" width="3" height="1" fill="#c0c0c0"/>
<rect x="544" y="499" width="3" height="1" fill="#c0c0c0"/>
<rect x="550" y="499" width="3" height="1" fill="#c0c0c0"/>
<rect x="556" y="499" width="3" height="1" fill="#c0c0c0"/>
<rect x="562" y="499" width="3" height="1" fill="#c0c0c0"/>
<rect x="568" y="499" width="3" height="1" fill="#c0c0c0"/>
<rect x="574" y="499" width="3" height="1" fill="#c0c0c0"/>
<rect x="580" y="499" width="3" height="1" fill="#c0c0c0"/>
<rect x="586" y="499" width="3" height="1" fill="#c0c0c0"/>
<rect x="592" y="499" width="3" height="1" fill="#c0c0c0"/>
<rect x="598" y="499" width="3" height="1" fill="#c0c0c0"/>
<rect x="604" y="499" width="3" height="1" fill="#c0c0c0"/>
<rect x="610" y="499" width="3" height="1" fill="#c0c0c0"/>
<rect x="616" y="499" width="3" height="1" fill="#c0c0c0"/>
<rect x="622" y="499" width="3" height="1" fill="#c0c0c0"/>
<rect x="628" y="499" width="3" height="1" fill="#c0c0c0"/>
<rect x="634" y="499" width="3" height="1" fill="#c0c0c0"/>
<rect x="640" y="499" width="3" height="1" fill="#c0c0c0"/>
<rect x="646" y="499" width="3" height="1" fill="#c0c0c0"/>
<rect x="652" y="499" width="3" height="1" fill="#c0c0c0"/>
<rect x="658" y="499" width="3" height="1" fill="#c0c0c0"/>
<rect x="664" y="499" width="3" height="1" fill="#c0c0c0"/>
<rect x="670" y="499" width="3" height="1" fill="#c0c0c0"/>
<rect x="676" y="499" width="3" height="1" fill="#c0c0c0"/>
<rect x="682" y="499" width="3" height="1" fill="#c0c0c0"/>
<rect x="688" y="499" width="3" height="1" fill="#c0c0c0"/>
<rect x="694" y="499" width="3" height="1" fill="#c0c0c0"/>
<rect x="700" y="499" width="3" height="1" fill="#c0c0c0"/>
<rect x="706" y="499" width="3" height="1" fill="#c0c0c0"/>
<rect x="712" y="499" width="3" height="1" fill="#c0c0c0"/>
<rect x="718" y="499" width="3" height="1" fill="#c0c0c0"/>
<rect x="724" y="499" width="3" height="1" fill="#c0c0c0"/>
<rect x="730" y="499" width="3" height="1" fill="#c0c0c0"/>
<rect x="736" y="499" width="3" height="1" fill="#c0c0c0"/>
<rect x="742" y="499" width="3" height="1" fill="#c0c0c0"/>
<rect x="748" y="499" width="3" height="1" fill="#c0c0c0"/>
<rect x="754" y="499" width="3" height="1" fill="#c0c0c0"/>
<rect x="760" y="499" width="3" height="1" fill="#c0c0c0"/>
<rect x="766" y="499" width="3" height="1" fill="#c0c0c0"/>
<rect x="772" y="499" width="3" height="1" fill="#c0c0c0"/>
<rect x="778" y="499" width="3" height="1" fill="#c0c0c0"/>
<rect x="784" y="499" width="3" height="1" fill="#c0c0c0"/>
<rect x="790" y="499" width="3" height="1" fill="#c0c0c0"/>
<rect x="796" y="499" width="3" height="1" fill="#c0c0c0"/>
<rect x="802" y="499" width="3" height="1" fill="#c0c0c0"/>
<rect x="808" y="499" width="3" height="1" fill="#c0c0c0"/>
<rect x="814" y="499" width="3" height="1" fill="#c0c0c0"/>
<rect x="820" y="499" width="3" height="1" fill="#c0c0c0"/>
<rect x="826" y="499" width="3" height="1" fill="#c0c0c0"/>
<rect x="832" y="499" width="3" height="1" fill="#c0c0c0"/>
<rect x="838" y="499" width="3" height="1" fill="#c0c0c0"/>
<rect x="844" y="499" width="3" height="1" fill="#c0c0c0"/>
<rect x="850" y="499" width="3" height="1" fill="#c0c0c0"/>
<rect x="856" y="499" width="3" height="1" fill="#c0c0c0"/>
<rect x="862" y="499" width="3" height="1" fill="#c0c0c0"/>
<rect x="868" y="499" width="3" height="1" fill="#c0c0c0"/>
<rect x="874" y="499" width="3" height="1" fill="#c0c0c0"/>
<rect x="880" y="499" width="3" height="1" fill="#c0c0c0"/>
<rect x="886" y="499" width="3" height="1" fill="#c0c0c0"/>
<rect x="892" y="499" width="3" height="1" fill="#c0c0c0"/>
<rect x="898" y="499" width="3" height="1" fill="#c0c0c0"/>
<rect x="904" y="499" width="3" height="1" fill="#c0c0c0"/>
<rect x="910" y="499" width="3" height="1" fill="#c0c0c0"/>
<rect x="916" y="499" width="3" height="1" fill="#c0c0c0"/>
<rect x="922" y="499" width="3" height="1" fill="#c0c0c0"/>
<rect x="928" y="499" width="3" height="1" fill="#c0c0c0"/>
<rect x="934" y="499" width="3" height="1" fill="#c0c0c0"/>
<rect x="940" y="499" width="3" height="1" fill="#c0c0c0"/>
<rect x="946" y="499" width="3" height="1" fill="#c0c0c0"/>
<rect x="952" y="499" width="3" height="1" fill="#c0c0c0"/>
<rect x="958" y="499" width="3" height="1" fill="#c0c0c0"/>
<rect x="964" y="499" width="3" height="1" fill="#c0c0c0"/>
<rect x="970" y="499" width="3" height="1" fill="#c0c0c0"/>
<rect x="976" y="499" width="3" height="1" fill="#c0c0c0"/>
<rect x="982" y="499" width="3" height="1" fill="#c0c0c0"/>
<rect x="988" y="499" width="3" height="1" fill="#c0c0c0"/>
<rect x="994" y="499" width="3" height="1" fill="#c0c0c0"/>
<rect x="1000" y="499" width="3" height="1" fill="#c0c0c0"/>
<rect x="1006" y="499" width="3" height="1" fill="#c0c0c0"/>
<rect x="1012" y="499" width="3" height="1" fill="#c0c0c0"/>
<rect x="1018" y="499" width="3" height="1" fill="#c0c0c0"/>
<rect x="1024" y="499" width="3" height="1" fill="#c0c0c0"/>
<rect x="1030" y="499" width="3" height="1" fill="#c0c0c0"/>
<rect x="1036" y="499" width="3" height="1" fill="#c0c0c0"/>
<rect x="1042" y="499" width="3" height="1" fill="#c0c0c0"/>
<rect x="1048" y="499" width="3" height="1" fill="#c0c0c0"/>
<rect x="1054" y="499" width="3" height="1" fill="#c0c0c0"/>
<rect x="1060" y="499" width="3" height="1" fill="#c0c0c0"/>
<rect x="1066" y="499" width="3" height="1" fill="#c0c0c0"/>
<rect x="1072" y="499" width="3" height="1" fill="#c0c0c0"/>
<rect x="1078" y="499" width="3" height="1" fill="#c0c0c0"/>
<rect x="1084" y="499" width="3" height="1" fill="#c0c0c0"/>
<rect x="1090" y="499" width="3" height="1" fill="#c0c0c0"/>
<rect x="1096" y="499" width="3" height="1" fill="#c0c0c0"/>
<rect x="1102" y="499" width="3" height="1" fill="#c0c0c0"/>
<rect x="1108" y="499" width="3" height="1" fill="#c0c0c0"/>
<rect x="1114" y="499" width="3" height="1" fill="#c0c0c0"/>
<rect x="1120" y="499" width="3" height="1" fill="#c0c0c0"/>
<rect x="1126" y="499" width="3" height="1" fill="#c0c0c0"/>
<rect x="1132" y="499" width="3" height="1" fill="#c0c0c0"/>
<rect x="1138" y="499" width="3" height="1" fill="#c0c0c0"/>
<rect x="1144" y="499" width="3" height="1" fill="#c0c0c0"/>
<rect x="1150" y="499" width="3" height="1" fill="#c0c0c0"/>
<rect x="1156" y="499" width="3" height="1" fill="#c0c0c0"/>
<rect x="1162" y="499" width="3" height="1" fill="#c0c0c0"/>
<rect x="4" y="527" width="3" height="1" fill="#c0c0c0"/>
<rect x="10" y="527" width="3" height="1" fill="#c0c0c0"/>
<rect x="16" y="527" width="3" height="1" fill="#c0c0c0"/>
<rect x="22" y="527" width="3" height="1" fill="#c0c0c0"/>
<rect x="28" y="527" width="3" height="1" fill="#c0c0c0"/>
<rect x="34" y="527" width="3" height="1" fill="#c0c0c0"/>
<rect x="40" y="527" width="3" height="1" fill="#c0c0c0"/>
<rect x="46" y="527" width="3" height="1" fill="#c0c0c0"/>
<rect x="52" y="527" width="3" height="1" fill="#c0c0c0"/>
<rect x="58" y="527" width="3" height="1" fill="#c0c0c0"/>
<rect x="64" y="527" width="3" height="1" fill="#c0c0c0"/>
<rect x="70" y="527" width="3" height="1" fill="#c0c0c0"/>
<rect x="76" y="527" width="3" height="1" fill="#c0c0c0"/>
<rect x="82" y="527" width="3" height="1" fill="#c0c0c0"/>
<rect x="88" y="527" width="3" height="1" fill="#c0c0c0"/>
<rect x="94" y="527" width="3" height="1" fill="#c0c0c0"/>
<rect x="100" y="527" width="3" height="1" fill="#c0c0c0"/>
<rect x="106" y="527" width="3" height="1" fill="#c0c0c0"/>
<rect x="112" y="527" width="3" height="1" fill="#c0c0c0"/>
<rect x="118" y="527" width="3" height="1" fill="#c0c0c0"/>
<rect x="124" y="527" width="3" height="1" fill="#c0c0c0"/>
<rect x="130" y="527" width="3" height="1" fill="#c0c0c0"/>
<rect x="136" y="527" width="3" height="1" fill="#c0c0c0"/>
<rect x="142" y="527" width="3" height="1" fill="#c0c0c0"/>
<rect x="148" y="527" width="3" height="1" fill="#c0c0c0"/>
<rect x="154" y="527" width="3" height="1" fill="#c0c0c0"/>
<rect x="160" y="527" width="3" height="1" fill="#c0c0c0"/>
<rect x="166" y="527" width="3" height="1" fill="#c0c0c0"/>
<rect x="172" y="527" width="3" height="1" fill="#c0c0c0"/>
<rect x="178" y="527" width="3" height="1" fill="#c0c0c0"/>
<rect x="184" y="527" width="3" height="1" fill="#c0c0c0"/>
<rect x="190" y="527" width="3" height="1" fill="#c0c0c0"/>
<rect x="196" y="527" width="3" height="1" fill="#c0c0c0"/>
<rect x="202" y="527" width="3" height="1" fill="#c0c0c0"/>
<rect x="208" y="527" width="3" height="1" fill="#c0c0c0"/>
<rect x="214" y="527" width="3" height="1" fill="#c0c0c0"/>
<rect x="220" y="527" width="3" height="1" fill="#c0c0c0"/>
<rect x="226" y="527" width="3" height="1" fill="#c0c0c0"/>
<rect x="232" y="527" width="3" height="1" fill="#c0c0c0"/>
<rect x="238" y="527" width="3" height="1" fill="#c0c0c0"/>
<rect x="244" y="527" width="3" height="1" fill="#c0c0c0"/>
<rect x="250" y="527" width="3" height="1" fill="#c0c0c0"/>
<rect x="256" y="527" width="3" height="1" fill="#c0c0c0"/>
<rect x="262" y="527" width="3" height="1" fill="#c0c0c0"/>
<rect x="268" y="527" width="3" height="1" fill="#c0c0c0"/>
<rect x="274" y="527" width="3" height="1" fill="#c0c0c0"/>
<rect x="280" y="527" width="3" height="1" fill="#c0c0c0"/>
<rect x="286" y="527" width="3" height="1" fill="#c0c0c0"/>
<rect x="292" y="527" width="3" height="1" fill="#c0c0c0"/>
<rect x="298" y="527" width="3" height="1" fill="#c0c0c0"/>
<rect x="304" y="527" width="3" height="1" fill="#c0c0c0"/>
<rect x="310" y="527" width="3" height="1" fill="#c0c0c0"/>
<rect x="316" y="527" width="3" height="1" fill="#c0c0c0"/>
<rect x="322" y="527" width="3" height="1" fill="#c0c0c0"/>
<rect x="328" y="527" width="3" height="1" fill="#c0c0c0"/>
<rect x="334" y="527" width="3" height="1" fill="#c0c0c0"/>
<rect x="340" y="527" width="3" height="1" fill="#c0c0c0"/>
<rect x="346" y="527" width="3" height="1" fill="#c0c0c0"/>
<rect x="352" y="527" width="3" height="1" fill="#c0c0c0"/>
<rect x="358" y="527" width="3" height="1" fill="#c0c0c0"/>
<rect x="364" y="527" width="3" height="1" fill="#c0c0c0"/>
<rect x="370" y="527" width="3" height="1" fill="#c0c0c0"/>
<rect x="376" y="527" width="3" height="1" fill="#c0c0c0"/>
<rect x="382" y="527" width="3" height="1" fill="#c0c0c0"/>
<rect x="388" y="527" width="3" height="1" fill="#c0c0c0"/>
<rect x="394" y="527" width="3" height="1" fill="#c0c0c0"/>
<rect x="400" y="527" width="3" height="1" fill="#c0c0c0"/>
<rect x="406" y="527" width="3" height="1" fill="#c0c0c0"/>
<rect x="412" y="527" width="3" height="1" fill="#c0c0c0"/>
<rect x="418" y="527" width="3" height="1" fill="#c0c0c0"/>
<rect x="424" y="527" width="3" height="1" fill="#c0c0c0"/>
<rect x="430" y="527" width="3" height="1" fill="#c0c0c0"/>
<rect x="436" y="527" width="3" height="1" fill="#c0c0c0"/>
<rect x="442" y="527" width="3" height="1" fill="#c0c0c0"/>
<rect x="448" y="527" width="3" height="1" fill="#c0c0c0"/>
<rect x="454" y="527" width="3" height="1" fill="#c0c0c0"/>
<rect x="460" y="527" width="3" height="1" fill="#c0c0c0"/>
<rect x="466" y="527" width="3" height="1" fill="#c0c0c0"/>
<rect x="472" y="527" width="3" height="1" fill="#c0c0c0"/>
<rect x="478" y="527" width="3" height="1" fill="#c0c0c0"/>
<rect x="484" y="527" width="3" height="1" fill="#c0c0c0"/>
<rect x="490" y="527" width="3" height="1" fill="#c0c0c0"/>
<rect x="496" y="527" width="3" height="1" fill="#c0c0c0"/>
<rect x="502" y="527" width="3" height="1" fill="#c0c0c0"/>
<rect x="508" y="527" width="3" height="1" fill="#c0c0c0"/>
<rect x="514" y="527" width="3" height="1" fill="#c0c0c0"/>
<rect x="520" y="527" width="3" height="1" fill="#c0c0c0"/>
<rect x="526" y="527" width="3" height="1" fill="#c0c0c0"/>
<rect x="532" y="527" width="3" height="1" fill="#c0c0c0"/>
<rect x="538" y="527" width="3" height="1" fill="#c0c0c0"/>
<rect x="544" y="527" width="3" height="1" fill="#c0c0c0"/>
<rect x="550" y="527" width="3" height="1" fill="#c0c0c0"/>
<rect x="556" y="527" width="3" height="1" fill="#c0c0c0"/>
<rect x="562" y="527" width="3" height="1" fill="#c0c0c0"/>
<rect x="568" y="527" width="3" height="1" fill="#c0c0c0"/>
<rect x="574" y="527" width="3" height="1" fill="#c0c0c0"/>
<rect x="580" y="527" width="3" height="1" fill="#c0c0c0"/>
<rect x="586" y="527" width="3" height="1" fill="#c0c0c0"/>
<rect x="592" y="527" width="3" height="1" fill="#c0c0c0"/>
<rect x="598" y="527" width="3" height="1" fill="#c0c0c0"/>
<rect x="604" y="527" width="3" height="1" fill="#c0c0c0"/>
<rect x="610" y="527" width="3" height="1" fill="#c0c0c0"/>
<rect x="616" y="527" width="3" height="1" fill="#c0c0c0"/>
<rect x="622" y="527" width="3" height="1" fill="#c0c0c0"/>
<rect x="628" y="527" width="3" height="1" fill="#c0c0c0"/>
<rect x="634" y="527" width="3" height="1" fill="#c0c0c0"/>
<rect x="640" y="527" width="3" height="1" fill="#c0c0c0"/>
<rect x="646" y="527" width="3" height="1" fill="#c0c0c0"/>
<rect x="652" y="527" width="3" height="1" fill="#c0c0c0"/>
<rect x="658" y="527" width="3" height="1" fill="#c0c0c0"/>
<rect x="664" y="527" width="3" height="1" fill="#c0c0c0"/>
<rect x="670" y="527" width="3" height="1" fill="#c0c0c0"/>
<rect x="676" y="527" width="3" height="1" fill="#c0c0c0"/>
<rect x="682" y="527" width="3" height="1" fill="#c0c0c0"/>
<rect x="688" y="527" width="3" height="1" fill="#c0c0c0"/>
<rect x="694" y="527" width="3" height="1" fill="#c0c0c0"/>
<rect x="700" y="527" width="3" height="1" fill="#c0c0c0"/>
<rect x="706" y="527" width="3" height="1" fill="#c0c0c0"/>
<rect x="712" y="527" width="3" height="1" fill="#c0c0c0"/>
<rect x="718" y="527" width="3" height="1" fill="#c0c0c0"/>
<rect x="724" y="527" width="3" height="1" fill="#c0c0c0"/>
<rect x="730" y="527" width="3" height="1" fill="#c0c0c0"/>
<rect x="736" y="527" width="3" height="1" fill="#c0c0c0"/>
<rect x="742" y="527" width="3" height="1" fill="#c0c0c0"/>
<rect x="748" y="527" width="3" height="1" fill="#c0c0c0"/>
<rect x="754" y="527" width="3" height="1" fill="#c0c0c0"/>
<rect x="760" y="527" width="3" height="1" fill="#c0c0c0"/>
<rect x="766" y="527" width="3" height="1" fill="#c0c0c0"/>
<rect x="772" y="527" width="3" height="1" fill="#c0c0c0"/>
<rect x="778" y="527" width="3" height="1" fill="#c0c0c0"/>
<rect x="784" y="527" width="3" height="1" fill="#c0c0c0"/>
<rect x="790" y="527" width="3" height="1" fill="#c0c0c0"/>
<rect x="796" y="527" width="3" height="1" fill="#c0c0c0"/>
<rect x="802" y="527" width="3" height="1" fill="#c0c0c0"/>
<rect x="808" y="527" width="3" height="1" fill="#c0c0c0"/>
<rect x="814" y="527" width="3" height="1" fill="#c0c0c0"/>
<rect x="820" y="527" width="3" height="1" fill="#c0c0c0"/>
<rect x="826" y="527" width="3" height="1" fill="#c0c0c0"/>
<rect x="832" y="527" width="3" height="1" fill="#c0c0c0"/>
<rect x="838" y="527" width="3" height="1" fill="#c0c0c0"/>
<rect x="844" y="527" width="3" height="1" fill="#c0c0c0"/>
<rect x="850" y="527" width="3" height="1" fill="#c0c0c0"/>
<rect x="856" y="527" width="3" height="1" fill="#c0c0c0"/>
<rect x="862" y="527" width="3" height="1" fill="#c0c0c0"/>
<rect x="868" y="527" width="3" height="1" fill="#c0c0c0"/>
<rect x="874" y="527" width="3" height="1" fill="#c0c0c0"/>
<rect x="880" y="527" width="3" height="1" fill="#c0c0c0"/>
<rect x="886" y="527" width="3" height="1" fill="#c0c0c0"/>
<rect x="892" y="527" width="3" height="1" fill="#c0c0c0"/>
<rect x="898" y="527" width="3" height="1" fill="#c0c0c0"/>
<rect x="904" y="527" width="3" height="1" fill="#c0c0c0"/>
<rect x="910" y="527" width="3" height="1" fill="#c0c0c0"/>
<rect x="916" y="527" width="3" height="1" fill="#c0c0c0"/>
<rect x="922" y="527" width="3" height="1" fill="#c0c0c0"/>
<rect x="928" y="527" width="3" height="1" fill="#c0c0c0"/>
<rect x="934" y="527" width="3" height="1" fill="#c0c0c0"/>
<rect x="940" y="527" width="3" height="1" fill="#c0c0c0"/>
<rect x="946" y="527" width="3" height="1" fill="#c0c0c0"/>
<rect x="952" y="527" width="3" height="1" fill="#c0c0c0"/>
<rect x="958" y="527" width="3" height="1" fill="#c0c0c0"/>
<rect x="964" y="527" width="3" height="1" fill="#c0c0c0"/>
<rect x="970" y="527" width="3" height="1" fill="#c0c0c0"/>
<rect x="976" y="527" width="3" height="1" fill="#c0c0c0"/>
<rect x="982" y="527" width="3" height="1" fill="#c0c0c0"/>
<rect x="988" y="527" width="3" height="1" fill="#c0c0c0"/>
<rect x="994" y="527" width="3" height="1" fill="#c0c0c0"/>
<rect x="1000" y="527" width="3" height="1" fill="#c0c0c0"/>
<rect x="1006" y="527" width="3" height="1" fill="#c0c0c0"/>
<rect x="1012" y="527" width="3" height="1" fill="#c0c0c0"/>
<rect x="1018" y="527" width="3" height="1" fill="#c0c0c0"/>
<rect x="1024" y="527" width="3" height="1" fill="#c0c0c0"/>
<rect x="1030" y="527" width="3" height="1" fill="#c0c0c0"/>
<rect x="1036" y="527" width="3" height="1" fill="#c0c0c0"/>
<rect x="1042" y="527" width="3" height="1" fill="#c0c0c0"/>
<rect x="1048" y="527" width="3" height="1" fill="#c0c0c0"/>
<rect x="1054" y="527" width="3" height="1" fill="#c0c0c0"/>
<rect x="1060" y="527" width="3" height="1" fill="#c0c0c0"/>
<rect x="1066" y="527" width="3" height="1" fill="#c0c0c0"/>
<rect x="1072" y="527" width="3" height="1" fill="#c0c0c0"/>
<rect x="1078" y="527" width="3" height="1" fill="#c0c0c0"/>
<rect x="1084" y="527" width="3" height="1" fill="#c0c0c0"/>
<rect x="1090" y="527" width="3" height="1" fill="#c0c0c0"/>
<rect x="1096" y="527" width="3" height="1" fill="#c0c0c0"/>
<rect x="1102" y="527" width="3" height="1" fill="#c0c0c0"/>
<rect x="1108" y="527" width="3" height="1" fill="#c0c0c0"/>
<rect x="1114" y="527" width="3" height="1" fill="#c0c0c0"/>
<rect x="1120" y="527" width="3" height="1" fill="#c0c0c0"/>
<rect x="1126" y="527" width="3" height="1" fill="#c0c0c0"/>
<rect x="1132" y="527" width="3" height="1" fill="#c0c0c0"/>
<rect x="1138" y="527" width="3" height="1" fill="#c0c0c0"/>
<rect x="1144" y="527" width="3" height="1" fill="#c0c0c0"/>
<rect x="1150" y="527" width="3" height="1" fill="#c0c0c0"/>
<rect x="1156" y="527" width="3" height="1" fill="#c0c0c0"/>
<rect x="1162" y="527" width="3" height="1" fill="#c0c0c0"/>
<path d="M223 502h16v1h-16zM218 503h5v1h-5zM239 503h5v1h-5zM215 504h3v1h-3zM244 504h2v1h-2zM213 505h2v1h-2zM246 505h1v1h-1zM210 506h3v1h-3zM247 506h2v1h-2zM207 507h3v1h-3zM249 507h2v1h-2zM205 508h2v1h-2zM251 508h1v1h-1zM603 508h1v1h-1zM199 509h6v1h-6zM252 509h2v1h-2zM602 509h1v1h-1zM604 509h1v1h-1zM185 510h14v1h-14zM254 510h2v1h-2zM601 510h1v1h-1zM604 510h1v1h-1zM3 511h9v1h-9zM181 511h4v1h-4zM256 511h2v1h-2zM546 511h2v1h-2zM601 511h1v1h-1zM605 511h1v1h-1zM12 512h2v1h-2zM178 512h3v1h-3zM258 512h11v1h-11zM306 512h2v1h-2zM543 512h3v1h-3zM548 512h2v1h-2zM600 512h1v1h-1zM606 512h1v1h-1zM14 513h2v1h-2zM175 513h3v1h-3zM269 513h4v1h-4zM303 513h3v1h-3zM308 513h1v1h-1zM541 513h2v1h-2zM550 513h2v1h-2zM599 513h1v1h-1zM606 513h1v1h-1zM16 514h2v1h-2zM159 514h8v1h-8zM173 514h2v1h-2zM273 514h22v1h-22zM301 514h2v1h-2zM309 514h1v1h-1zM537 514h4v1h-4zM552 514h2v1h-2zM559 514h14v1h-14zM598 514h1v1h-1zM607 514h1v1h-1zM642 514h2v1h-2zM679 514h5v1h-5zM883 514h1v1h-1zM18 515h5v1h-5zM83 515h10v1h-10zM151 515h8v1h-8zM167 515h6v1h-6zM295 515h6v1h-6zM310 515h1v1h-1zM533 515h4v1h-4zM554 515h5v1h-5zM573 515h2v1h-2zM597 515h1v1h-1zM608 515h1v1h-1zM627 515h2v1h-2zM639 515h3v1h-3zM644 515h2v1h-2zM673 515h6v1h-6zM684 515h1v1h-1zM882 515h1v1h-1zM884 515h2v1h-2zM23 516h5v1h-5zM82 516h1v1h-1zM93 516h4v1h-4zM147 516h4v1h-4zM311 516h1v1h-1zM530 516h3v1h-3zM575 516h3v1h-3zM597 516h1v1h-1zM608 516h1v1h-1zM625 516h2v1h-2zM629 516h4v1h-4zM637 516h2v1h-2zM646 516h2v1h-2zM669 516h4v1h-4zM685 516h1v1h-1zM881 516h1v1h-1zM886 516h2v1h-2zM28 517h1v1h-1zM81 517h1v1h-1zM97 517h3v1h-3zM146 517h1v1h-1zM312 517h1v1h-1zM527 517h3v1h-3zM578 517h5v1h-5zM596 517h1v1h-1zM609 517h1v1h-1zM623 517h2v1h-2zM633 517h4v1h-4zM648 517h2v1h-2zM665 517h4v1h-4zM686 517h1v1h-1zM880 517h1v1h-1zM888 517h2v1h-2zM895 517h16v1h-16zM29 518h1v1h-1zM80 518h1v1h-1zM100 518h1v1h-1zM145 518h1v1h-1zM313 518h1v1h-1zM363 518h2v1h-2zM513 518h6v1h-6zM525 518h2v1h-2zM583 518h13v1h-13zM610 518h1v1h-1zM622 518h1v1h-1zM650 518h5v1h-5zM661 518h4v1h-4zM687 518h1v1h-1zM826 518h5v1h-5zM879 518h1v1h-1zM890 518h5v1h-5zM911 518h5v1h-5zM30 519h1v1h-1zM79 519h1v1h-1zM101 519h2v1h-2zM143 519h2v1h-2zM314 519h1v1h-1zM362 519h1v1h-1zM365 519h2v1h-2zM499 519h4v1h-4zM509 519h4v1h-4zM519 519h6v1h-6zM610 519h1v1h-1zM620 519h2v1h-2zM655 519h6v1h-6zM687 519h1v1h-1zM824 519h2v1h-2zM831 519h8v1h-8zM847 519h8v1h-8zM878 519h1v1h-1zM31 520h2v1h-2zM78 520h1v1h-1zM103 520h1v1h-1zM142 520h1v1h-1zM315 520h2v1h-2zM361 520h1v1h-1zM367 520h3v1h-3zM375 520h6v1h-6zM498 520h1v1h-1zM503 520h6v1h-6zM611 520h9v1h-9zM688 520h1v1h-1zM803 520h2v1h-2zM822 520h2v1h-2zM839 520h8v1h-8zM855 520h8v1h-8zM877 520h1v1h-1zM33 521h1v1h-1zM77 521h1v1h-1zM104 521h1v1h-1zM141 521h1v1h-1zM317 521h2v1h-2zM361 521h1v1h-1zM370 521h5v1h-5zM381 521h2v1h-2zM497 521h1v1h-1zM689 521h1v1h-1zM802 521h1v1h-1zM805 521h4v1h-4zM820 521h2v1h-2zM863 521h8v1h-8zM876 521h1v1h-1zM34 522h1v1h-1zM76 522h1v1h-1zM105 522h2v1h-2zM140 522h1v1h-1zM319 522h3v1h-3zM360 522h1v1h-1zM383 522h3v1h-3zM497 522h1v1h-1zM690 522h1v1h-1zM802 522h1v1h-1zM809 522h11v1h-11zM871 522h5v1h-5zM35 523h4v1h-4zM66 523h10v1h-10zM107 523h2v1h-2zM130 523h10v1h-10zM322 523h13v1h-13zM359 523h1v1h-1zM386 523h5v1h-5zM496 523h1v1h-1zM691 523h2v1h-2zM801 523h1v1h-1zM39 524h8v1h-8zM64 524h2v1h-2zM109 524h4v1h-4zM128 524h2v1h-2zM335 524h13v1h-13zM358 524h1v1h-1zM391 524h5v1h-5zM495 524h1v1h-1zM693 524h4v1h-4zM800 524h1v1h-1zM47 525h6v1h-6zM62 525h2v1h-2zM113 525h4v1h-4zM126 525h2v1h-2zM348 525h2v1h-2zM357 525h1v1h-1zM396 525h1v1h-1zM433 525h6v1h-6zM494 525h1v1h-1zM697 525h19v1h-19zM747 525h1v1h-1zM799 525h1v1h-1zM53 526h4v1h-4zM60 526h2v1h-2zM117 526h4v1h-4zM124 526h2v1h-2zM350 526h2v1h-2zM357 526h1v1h-1zM397 526h2v1h-2zM429 526h4v1h-4zM439 526h6v1h-6zM465 526h12v1h-12zM493 526h1v1h-1zM716 526h2v1h-2zM745 526h2v1h-2zM748 526h2v1h-2zM799 526h1v1h-1zM57 527h3v1h-3zM121 527h3v1h-3zM352 527h2v1h-2zM356 527h1v1h-1zM399 527h1v1h-1zM425 527h4v1h-4zM445 527h2v1h-2zM461 527h4v1h-4zM477 527h4v1h-4zM493 527h1v1h-1zM718 527h2v1h-2zM744 527h1v1h-1zM750 527h2v1h-2zM798 527h1v1h-1zM354 528h2v1h-2zM400 528h1v1h-1zM421 528h4v1h-4zM447 528h3v1h-3zM455 528h6v1h-6zM481 528h6v1h-6zM492 528h1v1h-1zM720 528h2v1h-2zM743 528h1v1h-1zM752 528h2v1h-2zM797 528h1v1h-1zM401 529h2v1h-2zM417 529h4v1h-4zM450 529h5v1h-5zM487 529h5v1h-5zM722 529h3v1h-3zM741 529h2v1h-2zM754 529h11v1h-11zM796 529h1v1h-1zM403 530h4v1h-4zM413 530h4v1h-4zM725 530h4v1h-4zM740 530h1v1h-1zM765 530h4v1h-4zM796 530h1v1h-1zM407 531h6v1h-6zM729 531h11v1h-11zM769 531h14v1h-14zM791 531h5v1h-5zM783 532h8v1h-8z" fill="#1e90ff"/>
</g>
<text x="6.90" y="490" font-family="DejaVu Sans","Liberation Sans",sans-serif font-size="9.5" fill="#000" stroke="#000" stroke-width="0.3" textLength="68.00" lengthAdjust="spacingAndGlyphs">RSI(14) 43.2497</text>
<g shape-rendering="crispEdges">
<rect x="1166" y="479" width="1" height="1" fill="#000"/>
<rect x="1166" y="548" width="1" height="1" fill="#000"/>
</g>
<text x="1168.50" y="488" font-family="DejaVu Sans","Liberation Sans",sans-serif font-size="9.5" fill="#000" stroke="#000" stroke-width="0.3" textLength="15.60" lengthAdjust="spacingAndGlyphs">100</text>
<text x="1167.70" y="503" font-family="DejaVu Sans","Liberation Sans",sans-serif font-size="9.5" fill="#000" stroke="#000" stroke-width="0.3" textLength="10.40" lengthAdjust="spacingAndGlyphs">70</text>
<text x="1167.30" y="531" font-family="DejaVu Sans","Liberation Sans",sans-serif font-size="9.5" fill="#000" stroke="#000" stroke-width="0.3" textLength="11.10" lengthAdjust="spacingAndGlyphs">30</text>
<text x="1168.30" y="546" font-family="DejaVu Sans","Liberation Sans",sans-serif font-size="9.5" fill="#000" stroke="#000" stroke-width="0.3" textLength="5.90" lengthAdjust="spacingAndGlyphs">0</text>
<g shape-rendering="crispEdges">
<rect x="3" y="550" width="1" height="3" fill="#000"/>
<rect x="67" y="550" width="1" height="3" fill="#000"/>
<rect x="131" y="550" width="1" height="3" fill="#000"/>
<rect x="195" y="550" width="1" height="3" fill="#000"/>
<rect x="259" y="550" width="1" height="3" fill="#000"/>
<rect x="323" y="550" width="1" height="3" fill="#000"/>
<rect x="387" y="550" width="1" height="3" fill="#000"/>
<rect x="451" y="550" width="1" height="3" fill="#000"/>
<rect x="515" y="550" width="1" height="3" fill="#000"/>
<rect x="579" y="550" width="1" height="3" fill="#000"/>
<rect x="643" y="550" width="1" height="3" fill="#000"/>
<rect x="707" y="550" width="1" height="3" fill="#000"/>
<rect x="771" y="550" width="1" height="3" fill="#000"/>
<rect x="835" y="550" width="1" height="3" fill="#000"/>
<rect x="899" y="550" width="1" height="3" fill="#000"/>
</g>
<text x="1.80" y="562" font-family="DejaVu Sans","Liberation Sans",sans-serif font-size="9.5" fill="#000" stroke="#000" stroke-width="0.3" textLength="48.30" lengthAdjust="spacingAndGlyphs">2 Aug 2021</text>
<text x="65.50" y="562" font-family="DejaVu Sans","Liberation Sans",sans-serif font-size="9.5" fill="#000" stroke="#000" stroke-width="0.3" textLength="53.40" lengthAdjust="spacingAndGlyphs">11 Aug 2021</text>
<text x="129.30" y="562" font-family="DejaVu Sans","Liberation Sans",sans-serif font-size="9.5" fill="#000" stroke="#000" stroke-width="0.3" textLength="53.70" lengthAdjust="spacingAndGlyphs">20 Aug 2021</text>
<text x="193.40" y="562" font-family="DejaVu Sans","Liberation Sans",sans-serif font-size="9.5" fill="#000" stroke="#000" stroke-width="0.3" textLength="52.90" lengthAdjust="spacingAndGlyphs">30 Aug 2021</text>
<text x="257.60" y="562" font-family="DejaVu Sans","Liberation Sans",sans-serif font-size="9.5" fill="#000" stroke="#000" stroke-width="0.3" textLength="47.20" lengthAdjust="spacingAndGlyphs">8 Sep 2021</text>
<text x="321.70" y="562" font-family="DejaVu Sans","Liberation Sans",sans-serif font-size="9.5" fill="#000" stroke="#000" stroke-width="0.3" textLength="52.00" lengthAdjust="spacingAndGlyphs">17 Sep 2021</text>
<text x="385.60" y="562" font-family="DejaVu Sans","Liberation Sans",sans-serif font-size="9.5" fill="#000" stroke="#000" stroke-width="0.3" textLength="51.80" lengthAdjust="spacingAndGlyphs">27 Sep 2021</text>
<text x="448.80" y="562" font-family="DejaVu Sans","Liberation Sans",sans-serif font-size="9.5" fill="#000" stroke="#000" stroke-width="0.3" textLength="47.00" lengthAdjust="spacingAndGlyphs">6 Oct 2021</text>
<text x="513.60" y="562" font-family="DejaVu Sans","Liberation Sans",sans-serif font-size="9.5" fill="#000" stroke="#000" stroke-width="0.3" textLength="50.80" lengthAdjust="spacingAndGlyphs">15 Oct 2021</text>
<text x="577.50" y="562" font-family="DejaVu Sans","Liberation Sans",sans-serif font-size="9.5" fill="#000" stroke="#000" stroke-width="0.3" textLength="51.10" lengthAdjust="spacingAndGlyphs">25 Oct 2021</text>
<text x="641.70" y="562" font-family="DejaVu Sans","Liberation Sans",sans-serif font-size="9.5" fill="#000" stroke="#000" stroke-width="0.3" textLength="48.60" lengthAdjust="spacingAndGlyphs">3 Nov 2021</text>
<text x="705.70" y="562" font-family="DejaVu Sans","Liberation Sans",sans-serif font-size="9.5" fill="#000" stroke="#000" stroke-width="0.3" textLength="53.90" lengthAdjust="spacingAndGlyphs">12 Nov 2021</text>
<text x="769.80" y="562" font-family="DejaVu Sans","Liberation Sans",sans-serif font-size="9.5" fill="#000" stroke="#000" stroke-width="0.3" textLength="54.00" lengthAdjust="spacingAndGlyphs">22 Nov 2021</text>
<text x="833.50" y="562" font-family="DejaVu Sans","Liberation Sans",sans-serif font-size="9.5" fill="#000" stroke="#000" stroke-width="0.3" textLength="47.50" lengthAdjust="spacingAndGlyphs">1 Dec 2021</text>
<text x="897.90" y="562" font-family="DejaVu Sans","Liberation Sans",sans-serif font-size="9.5" fill="#000" stroke="#000" stroke-width="0.3" textLength="51.70" lengthAdjust="spacingAndGlyphs">10 Dec 2021</text>
<g shape-rendering="crispEdges">
<rect x="0" y="570" width="1208" height="1" fill="#e3e3e3"/>
<rect x="0" y="573" width="1208" height="19" fill="#f0f0f0"/>
<rect x="0" y="592" width="1208" height="1" fill="#fbfbfb"/>
<rect x="0" y="572" width="105" height="1" fill="#000"/>
<rect x="211" y="572" width="997" height="1" fill="#000"/>
<rect x="104" y="572" width="1" height="19" fill="#000"/>
<rect x="211" y="572" width="1" height="19" fill="#000"/>
<rect x="104" y="590" width="108" height="1" fill="#000"/>
<rect x="105" y="572" width="106" height="18" fill="#fff"/>
<rect x="320" y="575" width="1" height="14" fill="#606060"/>
<rect x="416" y="575" width="1" height="14" fill="#606060"/>
<rect x="524" y="575" width="1" height="14" fill="#606060"/>
<rect x="636" y="575" width="1" height="14" fill="#606060"/>
<rect x="733" y="575" width="1" height="14" fill="#606060"/>
<rect x="824" y="575" width="1" height="14" fill="#606060"/>
<rect x="912" y="575" width="1" height="14" fill="#606060"/>
<rect x="996" y="575" width="1" height="14" fill="#606060"/>
</g>
<text x="15.30" y="587" font-size="12" fill="#6d6d6d" textLength="77.70" lengthAdjust="spacingAndGlyphs">USDX,Weekly</text>
<text x="221.50" y="587" font-size="12" fill="#6d6d6d" textLength="87.50" lengthAdjust="spacingAndGlyphs">AUDUSD-,Daily</text>
<text x="332.00" y="587" font-size="12" fill="#6d6d6d" textLength="72.30" lengthAdjust="spacingAndGlyphs">USDCHF-,H4</text>
<text x="427.00" y="587" font-size="12" fill="#6d6d6d" textLength="85.90" lengthAdjust="spacingAndGlyphs">USDCAD-,Daily</text>
<text x="536.10" y="587" font-size="12" fill="#6d6d6d" textLength="88.00" lengthAdjust="spacingAndGlyphs">USDCNH-,Daily</text>
<text x="647.10" y="587" font-size="12" fill="#6d6d6d" textLength="73.70" lengthAdjust="spacingAndGlyphs">XAUUSD-,H1</text>
<text x="743.40" y="587" font-size="12" fill="#6d6d6d" textLength="68.90" lengthAdjust="spacingAndGlyphs">UKOil-,Daily</text>
<text x="836.40" y="587" font-size="12" fill="#6d6d6d" textLength="63.70" lengthAdjust="spacingAndGlyphs">DJ30-,Daily</text>
<text x="923.40" y="587" font-size="12" fill="#6d6d6d" textLength="61.10" lengthAdjust="spacingAndGlyphs">UK100-,H1</text>
<text x="115.70" y="587" font-size="12" fill="#000" textLength="84.60" lengthAdjust="spacingAndGlyphs">EURUSD-,Daily</text>
<path d="M1184,578v7l-3,-3.5z" fill="#a0a0a0"/>
<path d="M1200,578v7l3,-3.5z" fill="#a0a0a0"/>
</svg></body></html>
